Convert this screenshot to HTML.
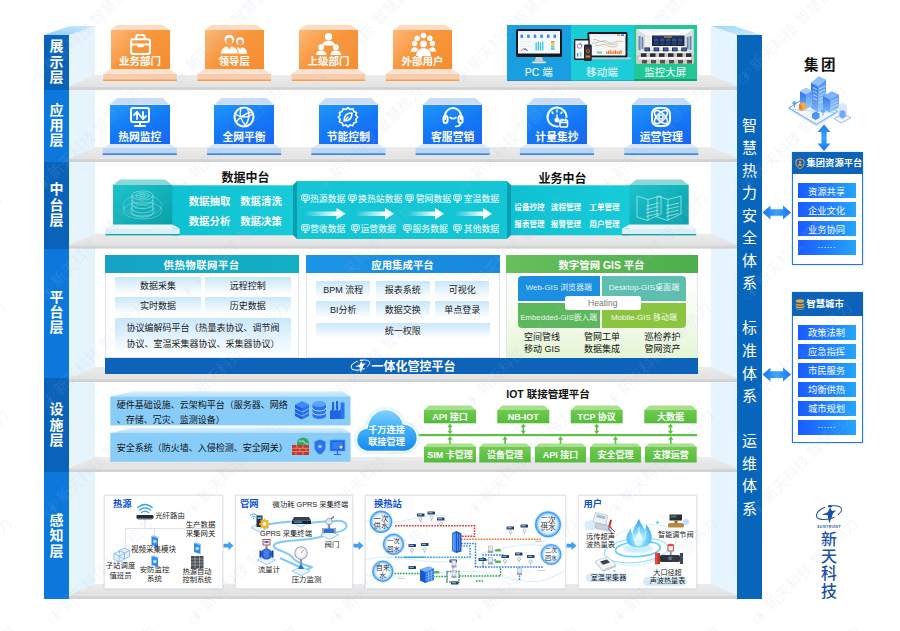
<!DOCTYPE html><html lang="zh-CN"><head><meta charset="utf-8"><title>智慧热力平台架构</title><style>
*{margin:0;padding:0;box-sizing:border-box}
html,body{width:900px;height:631px;overflow:hidden;background:#fff}
body{position:relative;font-family:"Liberation Sans","Noto Sans CJK SC",sans-serif;color:#222}
.a{position:absolute}
.c{position:absolute;display:flex;align-items:center;justify-content:center;text-align:center;white-space:nowrap}
svg{position:absolute;left:0;top:0;overflow:visible}
.lay{position:absolute;left:44px;width:25px;color:#fff;font-weight:700;font-size:14px;line-height:15.4px;display:flex;align-items:center;justify-content:center;text-align:center}
.lay span{display:block;width:14px;word-break:break-all}
.dk{background:#0b62b9}.lt{background:#0d78dc}
.rc{position:absolute;left:737px;top:35px;width:25px;height:563.8px;background:#0766bc;color:#fff;font-size:15px;line-height:22.55px;text-align:center}
.ob{color:#fff;font-weight:700;font-size:10px}
</style></head><body>
<svg width="900" height="631" viewBox="0 0 900 631"><defs><linearGradient id="gtopL" x1="0" y1="1" x2="1" y2="0"><stop offset="0" stop-color="#86ccf7"/><stop offset="1" stop-color="#d3edfd"/></linearGradient><linearGradient id="gtopR" x1="0" y1="0" x2="1" y2="1"><stop offset="0" stop-color="#9dd8fa"/><stop offset="1" stop-color="#cfeafc"/></linearGradient><linearGradient id="gshelf" x1="0" y1="0" x2="0" y2="1"><stop offset="0" stop-color="#ececec"/><stop offset="1" stop-color="#e2e2e2"/></linearGradient><linearGradient id="gedge" x1="0" y1="0" x2="0" y2="1"><stop offset="0" stop-color="#d9d9d9"/><stop offset="1" stop-color="#cfcfcf"/></linearGradient></defs><polygon points="69,35 95,26 95,584 69,598.8" fill="#e5f4fd"/><polygon points="711,26 737,35 737,598.8 711,584" fill="#e5f4fd"/><polygon points="44,35 69,35 95,26 70,26" fill="url(#gtopL)"/><polygon points="711,26 734,26 762,35 737,35" fill="url(#gtopR)"/><polygon points="95,75 711,75 737,86.5 69,86.5" fill="url(#gshelf)"/><rect x="69" y="86.5" width="668" height="3.4" fill="url(#gedge)"/><polygon points="95,147.1 711,147.1 737,158.6 69,158.6" fill="url(#gshelf)"/><rect x="69" y="158.6" width="668" height="3.4" fill="url(#gedge)"/><polygon points="95,233.7 711,233.7 737,245.2 69,245.2" fill="url(#gshelf)"/><rect x="69" y="245.2" width="668" height="3.4" fill="url(#gedge)"/><polygon points="95,367.1 711,367.1 737,378.6 69,378.6" fill="url(#gshelf)"/><rect x="69" y="378.6" width="668" height="3.4" fill="url(#gedge)"/><polygon points="95,457.1 711,457.1 737,468.6 69,468.6" fill="url(#gshelf)"/><rect x="69" y="468.6" width="668" height="3.4" fill="url(#gedge)"/><polygon points="95,584 711,584 737,595.5 69,595.5" fill="url(#gshelf)"/><rect x="69" y="595.5" width="668" height="3.4" fill="url(#gedge)"/></svg>
<div class="lay dk" style="top:35px;height:54.7px"><span style="position:relative;top:0px">展示层</span></div>
<div class="lay lt" style="top:89.7px;height:72.2px"><span style="position:relative;top:0px">应用层</span></div>
<div class="lay dk" style="top:161.9px;height:87.0px"><span style="position:relative;top:0px">中台层</span></div>
<div class="lay lt" style="top:248.9px;height:128.70000000000002px"><span style="position:relative;top:-0.5px">平台层</span></div>
<div class="lay dk" style="top:377.6px;height:94.29999999999995px"><span style="position:relative;top:0.5px">设施层</span></div>
<div class="lay lt" style="top:471.9px;height:126.89999999999998px"><span style="position:relative;top:0.5px">感知层</span></div>
<div class="rc"><div style="position:absolute;left:0;width:25px;top:79.5px">智<br>慧<br>热<br>力<br>安<br>全<br>体<br>系<br>　<br>标<br>准<br>体<br>系<br>　<br>运<br>维<br>体<br>系</div></div>
<svg width="900" height="631"><polygon points="117.5,24.7 162.5,24.7 169.5,30.2 110.5,30.2" fill="#fcdcc3"/><polygon points="110.5,69.0 169.5,69.0 176.8,73.8 103.2,73.8" fill="#fde1cf"/><rect x="103.2" y="73.8" width="73.6" height="5.7" fill="#f8ccb0"/><rect x="103.2" y="79.5" width="73.6" height="1.4000000000000004" fill="#f59b34"/></svg><div class="a" style="left:110.5px;top:30.2px;width:59px;height:39.3px;background:linear-gradient(135deg,#fdb877 0%,#f8963c 45%,#f68d30 100%)"></div><svg style="left:130.0px;top:34px" width="21" height="21" viewBox="2 2 20 20" fill="none" stroke="#fff" stroke-width="2" stroke-linecap="round" stroke-linejoin="round"><rect x="3" y="7" width="18" height="14" rx="2"/><path d="M8 7V5a2 2 0 0 1 2-2h4a2 2 0 0 1 2 2v2M3 12h18M10 12v1.5h4V12"/></svg><div class="c ob" style="left:105.5px;top:53.7px;width:69px;height:14px;font-size:10.5px">业务部门</div>
<svg width="900" height="631"><polygon points="211.7,24.7 256.7,24.7 263.7,30.2 204.7,30.2" fill="#fcdcc3"/><polygon points="204.7,69.0 263.7,69.0 271.0,73.8 197.39999999999998,73.8" fill="#fde1cf"/><rect x="197.39999999999998" y="73.8" width="73.6" height="5.7" fill="#f8ccb0"/><rect x="197.39999999999998" y="79.5" width="73.6" height="1.4000000000000004" fill="#f59b34"/></svg><div class="a" style="left:204.7px;top:30.2px;width:59px;height:39.3px;background:linear-gradient(135deg,#fdb877 0%,#f8963c 45%,#f68d30 100%)"></div><svg style="left:220.2px;top:33.5px" width="28" height="21" viewBox="0 1 30 22.5" fill="none" stroke="#fff" stroke-width="2" stroke-linecap="round" stroke-linejoin="round"><g stroke="none"><circle cx="21.500" cy="8.800" r="4.300" fill="#fff"/><ellipse cx="21.500" cy="10" rx="2.700" ry="3" fill="#f9a050"/><path d="M15 22.500c0-5 2-7.500 6.500-7.500s7.500 2.500 7.500 7.500z" fill="#fff"/><path d="M19.800 15l1.700 3 1.700-3z" fill="#f9a050"/><path d="M0.500 22.500c0-6 3-9 9.500-9s9.500 3 9.500 9z" fill="#fff" stroke="#f9a050" stroke-width="1.200"/><circle cx="10" cy="7" r="5.200" fill="#fff"/><ellipse cx="10" cy="8.500" rx="3.300" ry="3.700" fill="#f9a050"/><path d="M7.300 13.300l2.700 4.700 2.700-4.700z" fill="#f9a050"/></g></svg><div class="c ob" style="left:199.7px;top:53.7px;width:69px;height:14px;font-size:10.5px">领导层</div>
<svg width="900" height="631"><polygon points="305.9,24.7 350.9,24.7 357.9,30.2 298.9,30.2" fill="#fcdcc3"/><polygon points="298.9,69.0 357.9,69.0 365.2,73.8 291.59999999999997,73.8" fill="#fde1cf"/><rect x="291.59999999999997" y="73.8" width="73.6" height="5.7" fill="#f8ccb0"/><rect x="291.59999999999997" y="79.5" width="73.6" height="1.4000000000000004" fill="#f59b34"/></svg><div class="a" style="left:298.9px;top:30.2px;width:59px;height:39.3px;background:linear-gradient(135deg,#fdb877 0%,#f8963c 45%,#f68d30 100%)"></div><svg style="left:318.4px;top:34px" width="21" height="21" viewBox="2 2 20 20" fill="none" stroke="#fff" stroke-width="2" stroke-linecap="round" stroke-linejoin="round"><g fill="#fff" stroke="none"><circle cx="12" cy="4.500" r="3.500"/><path d="M6 13c0-3 2.500-4.500 6-4.500s6 1.500 6 4.500z"/><circle cx="5" cy="14.500" r="2.800"/><path d="M0 22c0-3 2-4.200 5-4.200s5 1.200 5 4.200z"/><circle cx="19" cy="14.500" r="2.800"/><path d="M14 22c0-3 2-4.200 5-4.200s5 1.200 5 4.200z"/></g></svg><div class="c ob" style="left:293.9px;top:53.7px;width:69px;height:14px;font-size:10.5px">上级部门</div>
<svg width="900" height="631"><polygon points="400.1,24.7 445.1,24.7 452.1,30.2 393.1,30.2" fill="#fcdcc3"/><polygon points="393.1,69.0 452.1,69.0 459.40000000000003,73.8 385.8,73.8" fill="#fde1cf"/><rect x="385.8" y="73.8" width="73.6" height="5.7" fill="#f8ccb0"/><rect x="385.8" y="79.5" width="73.6" height="1.4000000000000004" fill="#f59b34"/></svg><div class="a" style="left:393.1px;top:30.2px;width:59px;height:39.3px;background:linear-gradient(135deg,#fdb877 0%,#f8963c 45%,#f68d30 100%)"></div><svg style="left:412.6px;top:34px" width="21" height="21" viewBox="2 2 20 20" fill="none" stroke="#fff" stroke-width="2" stroke-linecap="round" stroke-linejoin="round"><g fill="#fff" stroke="none"><circle cx="12" cy="3.500" r="2.600"/><circle cx="6" cy="6" r="2.600"/><circle cx="18" cy="6" r="2.600"/><circle cx="3.500" cy="11" r="2.600"/><circle cx="20.500" cy="11" r="2.600"/><circle cx="12" cy="11.500" r="3.200"/><path d="M5 23c0-5 3-7.500 7-7.500s7 2.500 7 7.500z"/><path d="M0 19c0-3 1.500-4.500 3.500-4.500s3 1 3.500 2l-2 2.500z"/><path d="M24 19c0-3-1.500-4.500-3.500-4.500s-3 1-3.500 2l2 2.500z"/><path d="M2.500 10c1-2 2.500-2.500 3.500-2.500M21.500 10c-1-2-2.500-2.500-3.500-2.500" /></g></svg><div class="c ob" style="left:388.1px;top:53.7px;width:69px;height:14px;font-size:10.5px">外部用户</div>
<div class="a" style="left:507px;top:25px;width:63.5px;height:56px;background:#199fe0;border-bottom:1.5px solid #2a86d8"></div>
<div class="a" style="left:570.5px;top:25px;width:63px;height:56px;background:#1ccdd9;border-bottom:1.500px solid #17b4c4"></div>
<div class="a" style="left:633.5px;top:25px;width:63.5px;height:56px;background:#21c896;border-bottom:2px solid #10a27b"></div>
<div class="c" style="left:507px;top:64px;width:63.5px;height:14px;color:#fff;font-size:10.5px">PC 端</div>
<div class="c" style="left:570.5px;top:64px;width:63px;height:14px;color:#fff;font-size:10.5px">移动端</div>
<div class="c" style="left:633.5px;top:64px;width:63.5px;height:14px;color:#fff;font-size:10.5px">监控大屏</div>
<svg width="900" height="631"><polygon points="117.0,98.0 162.5,98.0 169.5,104.7 110.0,104.7" fill="#cbddf6"/><polygon points="110.0,143.8 169.5,143.8 176.8,148.0 102.7,148.0" fill="#dae7f8"/><rect x="102.7" y="148.0" width="74.1" height="5.3" fill="#bbd5f3"/><rect x="102.7" y="153.3" width="74.1" height="1.6999999999999993" fill="#3587e3"/></svg><div class="a" style="left:110.0px;top:104.7px;width:59.5px;height:39.6px;background:linear-gradient(160deg,#1e97fb 0%,#1479f5 50%,#1766f2 100%)"></div><svg style="left:129.8px;top:107px" width="20" height="20" viewBox="2 2 20 20" fill="none" stroke="#fff" stroke-width="2" stroke-linecap="round" stroke-linejoin="round"><rect x="3" y="3" width="18" height="14" rx="2"/><path d="M12 17v4M7 21h10M6 10l3-3 0 0v7M9 7l6 7V7m0 7l3-3" stroke-width="1.800"/></svg><div class="c ob" style="left:105.0px;top:128.5px;width:69.5px;height:14px;font-size:10.8px">热网监控</div>
<svg width="900" height="631"><polygon points="221.3,98.0 266.8,98.0 273.8,104.7 214.3,104.7" fill="#cbddf6"/><polygon points="214.3,143.8 273.8,143.8 281.1,148.0 207.0,148.0" fill="#dae7f8"/><rect x="207.0" y="148.0" width="74.1" height="5.3" fill="#bbd5f3"/><rect x="207.0" y="153.3" width="74.1" height="1.6999999999999993" fill="#3587e3"/></svg><div class="a" style="left:214.3px;top:104.7px;width:59.5px;height:39.6px;background:linear-gradient(160deg,#1e97fb 0%,#1479f5 50%,#1766f2 100%)"></div><svg style="left:234.10000000000002px;top:107px" width="20" height="20" viewBox="2 2 20 20" fill="none" stroke="#fff" stroke-width="2" stroke-linecap="round" stroke-linejoin="round"><circle cx="12" cy="12" r="9.500"/><path d="M3 9c6 4 12 4 18 0M4 17c5-6 11-9 16-10M9 3c-2 6 0 13 5 18M15 3c3 5 3 11-2 18" stroke-width="1.400"/></svg><div class="c ob" style="left:209.3px;top:128.5px;width:69.5px;height:14px;font-size:10.8px">全网平衡</div>
<svg width="900" height="631"><polygon points="325.6,98.0 371.1,98.0 378.1,104.7 318.6,104.7" fill="#cbddf6"/><polygon points="318.6,143.8 378.1,143.8 385.40000000000003,148.0 311.3,148.0" fill="#dae7f8"/><rect x="311.3" y="148.0" width="74.1" height="5.3" fill="#bbd5f3"/><rect x="311.3" y="153.3" width="74.1" height="1.6999999999999993" fill="#3587e3"/></svg><div class="a" style="left:318.6px;top:104.7px;width:59.5px;height:39.6px;background:linear-gradient(160deg,#1e97fb 0%,#1479f5 50%,#1766f2 100%)"></div><svg style="left:338.40000000000003px;top:107px" width="20" height="20" viewBox="2 2 20 20" fill="none" stroke="#fff" stroke-width="2" stroke-linecap="round" stroke-linejoin="round"><path d="M12 2.500l2 2 2.800-.8 1 2.700 2.800 1-.8 2.800 2 2-2 2 .8 2.800-2.800 1-1 2.700-2.800-.8-2 2-2-2-2.800.8-1-2.700-2.800-1 .8-2.800-2-2 2-2-.8-2.800 2.800-1 1-2.700 2.800.8z" stroke-width="1.600"/><path d="M8 16c0-5 3-8 8-8 0 5-3 8-8 8zm0 0l4-4" stroke-width="1.500"/></svg><div class="c ob" style="left:313.6px;top:128.5px;width:69.5px;height:14px;font-size:10.8px">节能控制</div>
<svg width="900" height="631"><polygon points="429.9,98.0 475.4,98.0 482.4,104.7 422.9,104.7" fill="#cbddf6"/><polygon points="422.9,143.8 482.4,143.8 489.7,148.0 415.59999999999997,148.0" fill="#dae7f8"/><rect x="415.59999999999997" y="148.0" width="74.1" height="5.3" fill="#bbd5f3"/><rect x="415.59999999999997" y="153.3" width="74.1" height="1.6999999999999993" fill="#3587e3"/></svg><div class="a" style="left:422.9px;top:104.7px;width:59.5px;height:39.6px;background:linear-gradient(160deg,#1e97fb 0%,#1479f5 50%,#1766f2 100%)"></div><svg style="left:442.7px;top:107px" width="20" height="20" viewBox="2 2 20 20" fill="none" stroke="#fff" stroke-width="2" stroke-linecap="round" stroke-linejoin="round"><path d="M4 14v-3a8 8 0 0 1 16 0v3" /><rect x="2.500" y="11" width="4" height="7" rx="2"/><rect x="17.500" y="11" width="4" height="7" rx="2"/><path d="M19.500 18c0 2.500-2 3.500-5 3.500M9 12.500c2 1.500 4 1.500 6 0" stroke-width="1.600"/></svg><div class="c ob" style="left:417.9px;top:128.5px;width:69.5px;height:14px;font-size:10.8px">客服营销</div>
<svg width="900" height="631"><polygon points="534.2,98.0 579.7,98.0 586.7,104.7 527.2,104.7" fill="#cbddf6"/><polygon points="527.2,143.8 586.7,143.8 594.0,148.0 519.9000000000001,148.0" fill="#dae7f8"/><rect x="519.9000000000001" y="148.0" width="74.1" height="5.3" fill="#bbd5f3"/><rect x="519.9000000000001" y="153.3" width="74.1" height="1.6999999999999993" fill="#3587e3"/></svg><div class="a" style="left:527.2px;top:104.7px;width:59.5px;height:39.6px;background:linear-gradient(160deg,#1e97fb 0%,#1479f5 50%,#1766f2 100%)"></div><svg style="left:547.0px;top:107px" width="20" height="20" viewBox="2 2 20 20" fill="none" stroke="#fff" stroke-width="2" stroke-linecap="round" stroke-linejoin="round"><path d="M13 21.500a9.500 9.500 0 1 1 8.500-9.500" /><path d="M12 5v2M7 7l1 1.500M17 7l-1 1.500M12 10v4" stroke-width="1.500"/><circle cx="12" cy="15" r="1.500" fill="#fff"/><rect x="15" y="15" width="7.500" height="7" rx="1" stroke-width="1.500"/><path d="M15 17.500h7.500M17 14v2M20.500 14v2" stroke-width="1.300"/></svg><div class="c ob" style="left:522.2px;top:128.5px;width:69.5px;height:14px;font-size:10.8px">计量集抄</div>
<svg width="900" height="631"><polygon points="638.5,98.0 684.0,98.0 691.0,104.7 631.5,104.7" fill="#cbddf6"/><polygon points="631.5,143.8 691.0,143.8 698.3,148.0 624.2,148.0" fill="#dae7f8"/><rect x="624.2" y="148.0" width="74.1" height="5.3" fill="#bbd5f3"/><rect x="624.2" y="153.3" width="74.1" height="1.6999999999999993" fill="#3587e3"/></svg><div class="a" style="left:631.5px;top:104.7px;width:59.5px;height:39.6px;background:linear-gradient(160deg,#1e97fb 0%,#1479f5 50%,#1766f2 100%)"></div><svg style="left:651.3px;top:107px" width="20" height="20" viewBox="2 2 20 20" fill="none" stroke="#fff" stroke-width="2" stroke-linecap="round" stroke-linejoin="round"><rect x="3" y="3" width="18" height="18" rx="6"/><ellipse cx="12" cy="12" rx="8.500" ry="3.800" transform="rotate(45 12 12)" stroke-width="1.600"/><ellipse cx="12" cy="12" rx="8.500" ry="3.800" transform="rotate(-45 12 12)" stroke-width="1.600"/><circle cx="12" cy="12" r="2" stroke-width="1.600"/></svg><div class="c ob" style="left:626.5px;top:128.5px;width:69.5px;height:14px;font-size:10.8px">运营管理</div>
<svg width="900" height="631"><defs><linearGradient id="tealbox" x1="0" y1="0" x2="1" y2="1"><stop offset="0" stop-color="#1cc3cc"/><stop offset="1" stop-color="#0a9fa8"/></linearGradient><linearGradient id="tealband" x1="0" y1="0" x2="1" y2="0"><stop offset="0" stop-color="#0fc0d1"/><stop offset="1" stop-color="#17cbd9"/></linearGradient><linearGradient id="arr" x1="0" y1="0" x2="1" y2="0"><stop offset="0" stop-color="#fff" stop-opacity="0"/><stop offset="0.75" stop-color="#fff" stop-opacity="0.95"/><stop offset="1" stop-color="#fff"/></linearGradient></defs><rect x="172" y="185.300" width="122" height="50" fill="url(#tealband)"/><rect x="510" y="185.300" width="120" height="50" fill="url(#tealband)"/><polygon points="293,185 297,181 297,239 293,235" fill="#0a9fb0"/><polygon points="511,185 507,181 507,239 511,235" fill="#0a9fb0"/><rect x="297" y="181" width="210" height="58" fill="#14c6d5"/><polygon points="120,179.5 165.2,179.5 172.2,185 113,185" fill="#8fd6d6"/><rect x="113" y="185" width="59.2" height="40" fill="url(#tealbox)"/><polygon points="113,224.500 172.2,224.500 179.7,228.500 105.5,228.500" fill="#eaf6fa"/><rect x="105.5" y="228.500" width="74.2" height="5.500" fill="#d9eef5"/><rect x="105.5" y="234" width="74.2" height="1.400" fill="#12a8a8"/><polygon points="636.5,179.5 681.7,179.5 688.7,185 629.5,185" fill="#8fd6d6"/><rect x="629.5" y="185" width="59.2" height="40" fill="url(#tealbox)"/><polygon points="629.5,224.500 688.7,224.500 696.2,228.500 622.0,228.500" fill="#eaf6fa"/><rect x="622.0" y="228.500" width="74.2" height="5.500" fill="#d9eef5"/><rect x="622.0" y="234" width="74.2" height="1.400" fill="#12a8a8"/><g fill="none" stroke="#c8f6f5" stroke-width="0.550" opacity="0.85"><ellipse cx="142.500" cy="205.500" rx="19.500" ry="10.500" opacity="0.550"/><ellipse cx="142.500" cy="210.500" rx="19.500" ry="8.500" opacity="0.700"/><ellipse cx="142.500" cy="210.500" rx="13" ry="5.500" opacity="0.500"/><ellipse cx="142.500" cy="195.500" rx="10.500" ry="4.500"/><ellipse cx="142.500" cy="195.500" rx="6.500" ry="2.800"/><ellipse cx="142.500" cy="195.500" rx="3" ry="1.300"/><path d="M132 199.8a10.500 4.500 0 0 0 21 0"/><path d="M132 204.1a10.500 4.500 0 0 0 21 0"/><path d="M132 208.4a10.500 4.500 0 0 0 21 0"/><path d="M132 212.7a10.500 4.500 0 0 0 21 0"/><path d="M132 195.500v17.200M153 195.500v17.200"/></g><g fill="none" stroke="#c9f5f3" stroke-width="0.700" opacity="0.9"><path d="M637 196l11 3.500v21l-11-3.500z"/><path d="M648 199.500l13-3.500v18l-13 6"/><path d="M646 206.0l13-3"/><path d="M646 209.5l13-3"/><path d="M646 213.0l13-3"/><path d="M646 216.5l13-3"/><path d="M657 196l11 3.500v21l-11-3.500z"/><path d="M668 199.500l13-3.500v18l-13 6"/><path d="M666 206.0l13-3"/><path d="M666 209.5l13-3"/><path d="M666 213.0l13-3"/><path d="M666 216.5l13-3"/></g><polygon points="305,211.500 336.5,211.500 336.5,208 345.5,213.800 336.5,219.500 336.5,216 305,216" fill="url(#arr)"/><polygon points="355,211.500 385,211.500 385,208 394,213.800 385,219.500 385,216 355,216" fill="url(#arr)"/><polygon points="407.5,211.500 435,211.500 435,208 444,213.800 435,219.500 435,216 407.5,216" fill="url(#arr)"/><polygon points="455,211.500 483,211.500 483,208 492,213.800 483,219.500 483,216 455,216" fill="url(#arr)"/></svg>
<div class="c" style="left:195.500px;top:167px;width:100px;height:18px;font-size:12px;font-weight:700;color:#111">数据中台</div>
<div class="c" style="left:512.500px;top:168.500px;width:100px;height:18px;font-size:12px;font-weight:700;color:#111">业务中台</div>
<div class="c" style="left:188.5px;top:192.5px;width:42px;height:16px;font-size:10.400px;font-weight:700;color:#fff">数据抽取</div>
<div class="c" style="left:240px;top:192.5px;width:42px;height:16px;font-size:10.400px;font-weight:700;color:#fff">数据清洗</div>
<div class="c" style="left:188.5px;top:212.5px;width:42px;height:16px;font-size:10.400px;font-weight:700;color:#fff">数据分析</div>
<div class="c" style="left:240px;top:212.5px;width:42px;height:16px;font-size:10.400px;font-weight:700;color:#fff">数据决策</div>
<div class="c" style="left:514.5px;top:199px;width:30px;height:14px;font-size:7.600px;font-weight:700;color:#fff">设备抄控</div>
<div class="c" style="left:551px;top:199px;width:30px;height:14px;font-size:7.600px;font-weight:700;color:#fff">流程管理</div>
<div class="c" style="left:589.5px;top:199px;width:30px;height:14px;font-size:7.600px;font-weight:700;color:#fff">工单管理</div>
<div class="c" style="left:514.5px;top:216px;width:30px;height:14px;font-size:7.600px;font-weight:700;color:#fff">报表管理</div>
<div class="c" style="left:551px;top:216px;width:30px;height:14px;font-size:7.600px;font-weight:700;color:#fff">报警管理</div>
<div class="c" style="left:589.5px;top:216px;width:30px;height:14px;font-size:7.600px;font-weight:700;color:#fff">用户管理</div>
<svg style="left:300.5px;top:194.2px" width="9" height="9" viewBox="0 0 12 12" fill="none" stroke="#fff" stroke-width="1.200"><rect x="1" y="1" width="10" height="7.500" rx="1.500"/><rect x="3.500" y="3" width="5" height="3.500"/><path d="M4 11h4M6 8.500v2.500"/></svg>
<div class="c" style="left:310px;top:191.7px;width:35.5px;height:14px;font-size:8.900px;color:#fff">热源数据</div>
<svg style="left:348px;top:194.2px" width="9" height="9" viewBox="0 0 12 12" fill="none" stroke="#fff" stroke-width="1.200"><rect x="1" y="1" width="10" height="7.500" rx="1.500"/><rect x="3.500" y="3" width="5" height="3.500"/><path d="M4 11h4M6 8.500v2.500"/></svg>
<div class="c" style="left:358px;top:191.7px;width:44.5px;height:14px;font-size:8.900px;color:#fff">换热站数据</div>
<svg style="left:405px;top:194.2px" width="9" height="9" viewBox="0 0 12 12" fill="none" stroke="#fff" stroke-width="1.200"><rect x="1" y="1" width="10" height="7.500" rx="1.500"/><rect x="3.500" y="3" width="5" height="3.500"/><path d="M4 11h4M6 8.500v2.500"/></svg>
<div class="c" style="left:416px;top:191.7px;width:35px;height:14px;font-size:8.900px;color:#fff">管网数据</div>
<svg style="left:453px;top:194.2px" width="9" height="9" viewBox="0 0 12 12" fill="none" stroke="#fff" stroke-width="1.200"><rect x="1" y="1" width="10" height="7.500" rx="1.500"/><rect x="3.500" y="3" width="5" height="3.500"/><path d="M4 11h4M6 8.500v2.500"/></svg>
<div class="c" style="left:464px;top:191.7px;width:35px;height:14px;font-size:8.900px;color:#fff">室温数据</div>
<svg style="left:300.5px;top:223.5px" width="9" height="9" viewBox="0 0 12 12" fill="none" stroke="#fff" stroke-width="1.200"><rect x="1" y="1" width="10" height="7.500" rx="1.500"/><rect x="3.500" y="3" width="5" height="3.500"/><path d="M4 11h4M6 8.500v2.500"/></svg>
<div class="c" style="left:310px;top:221px;width:35.5px;height:14px;font-size:8.900px;color:#fff">营收数据</div>
<svg style="left:351px;top:223.5px" width="9" height="9" viewBox="0 0 12 12" fill="none" stroke="#fff" stroke-width="1.200"><rect x="1" y="1" width="10" height="7.500" rx="1.500"/><rect x="3.500" y="3" width="5" height="3.500"/><path d="M4 11h4M6 8.500v2.500"/></svg>
<div class="c" style="left:360.5px;top:221px;width:35.5px;height:14px;font-size:8.900px;color:#fff">运营数据</div>
<svg style="left:402.5px;top:223.5px" width="9" height="9" viewBox="0 0 12 12" fill="none" stroke="#fff" stroke-width="1.200"><rect x="1" y="1" width="10" height="7.500" rx="1.500"/><rect x="3.500" y="3" width="5" height="3.500"/><path d="M4 11h4M6 8.500v2.500"/></svg>
<div class="c" style="left:412.5px;top:221px;width:35.5px;height:14px;font-size:8.900px;color:#fff">服务数据</div>
<svg style="left:453px;top:223.5px" width="9" height="9" viewBox="0 0 12 12" fill="none" stroke="#fff" stroke-width="1.200"><rect x="1" y="1" width="10" height="7.500" rx="1.500"/><rect x="3.500" y="3" width="5" height="3.500"/><path d="M4 11h4M6 8.500v2.500"/></svg>
<div class="c" style="left:464px;top:221px;width:35px;height:14px;font-size:8.900px;color:#fff">其他数据</div>
<div class="a" style="left:104.5px;top:255px;width:194.3px;height:103px;background:#fff;border:1px solid #dfe6ee"></div><div class="c" style="left:104.5px;top:255px;width:194.3px;height:18px;background:linear-gradient(90deg,#16a3c6,#11b0c4);color:#fff;font-weight:700;font-size:10.400px;letter-spacing:0.5px">供热物联网平台</div>
<div class="a" style="left:305.5px;top:255px;width:194px;height:103px;background:#fff;border:1px solid #dfe6ee"></div><div class="c" style="left:305.5px;top:255px;width:194px;height:18px;background:linear-gradient(90deg,#1d95e6,#1888dd);color:#fff;font-weight:700;font-size:10.400px;letter-spacing:0px">应用集成平台</div>
<div class="a" style="left:505.5px;top:255px;width:192px;height:103px;background:#fff;border:1px solid #dfe6ee"></div><div class="c" style="left:505.5px;top:255px;width:192px;height:18px;background:linear-gradient(90deg,#68bf5c,#4cae4c);color:#fff;font-weight:700;font-size:10.400px;letter-spacing:0px">数字管网 GIS 平台</div>
<div class="a" style="left:506.500px;top:273px;width:190px;height:84.500px;background:linear-gradient(180deg,#ffffff 0%,#f4fbed 55%,#e4f5d4 100%)"></div>
<div class="c" style="left:115px;top:277px;width:86px;height:16.8px;background:linear-gradient(180deg,#c9e8fb 0%,#e6f4fd 55%,#ffffff 100%);font-size:9.0px;color:#1a1a1a">数据采集</div>
<div class="c" style="left:204.5px;top:277px;width:86.5px;height:16.8px;background:linear-gradient(180deg,#c9e8fb 0%,#e6f4fd 55%,#ffffff 100%);font-size:9.0px;color:#1a1a1a">远程控制</div>
<div class="c" style="left:115px;top:297px;width:86px;height:16.8px;background:linear-gradient(180deg,#c9e8fb 0%,#e6f4fd 55%,#ffffff 100%);font-size:9.0px;color:#1a1a1a">实时数据</div>
<div class="c" style="left:204.5px;top:297px;width:86.5px;height:16.8px;background:linear-gradient(180deg,#c9e8fb 0%,#e6f4fd 55%,#ffffff 100%);font-size:9.0px;color:#1a1a1a">历史数据</div>
<div class="a" style="left:115px;top:317.500px;width:176px;height:38px;background:linear-gradient(180deg,#c9e8fb 0%,#e6f4fd 55%,#ffffff 100%)"></div>
<div class="a" style="left:126.500px;top:321px;width:160px;font-size:9.000px;line-height:15.800px;color:#1a1a1a;white-space:nowrap">协议编解码平台（热量表协议、调节阀<br>协议、室温采集器协议、采集器协议）</div>
<div class="c" style="left:316.0px;top:281px;width:54.3px;height:16.5px;background:linear-gradient(180deg,#c9e8fb 0%,#e6f4fd 55%,#ffffff 100%);font-size:9.0px;color:#1a1a1a">BPM 流程</div>
<div class="c" style="left:375.6px;top:281px;width:54.3px;height:16.5px;background:linear-gradient(180deg,#c9e8fb 0%,#e6f4fd 55%,#ffffff 100%);font-size:9.0px;color:#1a1a1a">报表系统</div>
<div class="c" style="left:435.2px;top:281px;width:54.3px;height:16.5px;background:linear-gradient(180deg,#c9e8fb 0%,#e6f4fd 55%,#ffffff 100%);font-size:9.0px;color:#1a1a1a">可视化</div>
<div class="c" style="left:316.0px;top:301px;width:54.3px;height:16.5px;background:linear-gradient(180deg,#c9e8fb 0%,#e6f4fd 55%,#ffffff 100%);font-size:9.0px;color:#1a1a1a">BI分析</div>
<div class="c" style="left:375.6px;top:301px;width:54.3px;height:16.5px;background:linear-gradient(180deg,#c9e8fb 0%,#e6f4fd 55%,#ffffff 100%);font-size:9.0px;color:#1a1a1a">数据交换</div>
<div class="c" style="left:435.2px;top:301px;width:54.3px;height:16.5px;background:linear-gradient(180deg,#c9e8fb 0%,#e6f4fd 55%,#ffffff 100%);font-size:9.0px;color:#1a1a1a">单点登录</div>
<div class="c" style="left:316px;top:322.5px;width:173.5px;height:15.5px;background:linear-gradient(180deg,#c9e8fb 0%,#e6f4fd 55%,#ffffff 100%);font-size:9.0px;color:#1a1a1a">统一权限</div>
<div class="c" style="left:517.5px;top:275.5px;width:82.5px;height:25.8px;background:#1b8fe2;border-radius:4px 0 0 0;color:rgba(255,255,255,0.92);font-size:7.9px"><span style="position:relative;top:-1.5px">Web-GIS 浏览器端</span></div>
<div class="c" style="left:602px;top:275.5px;width:84px;height:25.8px;background:#5cbfb0;border-radius:0 4px 0 0;color:rgba(255,255,255,0.92);font-size:8.1px"><span style="position:relative;top:-1.5px">Desktop-GIS桌面端</span></div>
<div class="c" style="left:517.5px;top:303px;width:82.5px;height:24.5px;background:#5cb85c;border-radius:0 0 0 4px;color:rgba(255,255,255,0.92);font-size:7.75px"><span style="position:relative;top:1.5px">Embedded-GIS嵌入端</span></div>
<div class="c" style="left:602px;top:303px;width:84px;height:24.5px;background:#8bc53f;border-radius:0 0 4px 0;color:rgba(255,255,255,0.92);font-size:8.0px"><span style="position:relative;top:1.5px">Mobile-GIS 移动端</span></div>
<div class="c" style="left:564.500px;top:296px;width:76.500px;height:13.500px;background:#fff;border-radius:2.500px;color:#777;font-size:8.500px">Heating</div>
<div class="a" style="left:524px;top:330.500px;width:40px;font-size:9.000px;line-height:12.600px;color:#111;white-space:nowrap">空间管线<br>移动 GIS</div>
<div class="a" style="left:584px;top:330.500px;width:40px;font-size:9.000px;line-height:12.600px;color:#111;white-space:nowrap">管网工单<br>数据集成</div>
<div class="a" style="left:644.5px;top:330.500px;width:40px;font-size:9.000px;line-height:12.600px;color:#111;white-space:nowrap">巡检养护<br>管网资产</div>
<div class="a" style="left:104.500px;top:357.500px;width:593px;height:16.300px;background:#0d62b9"></div>
<div class="c" style="left:371px;top:357.500px;width:85px;height:16.300px;color:#fff;font-weight:700;font-size:12px">一体化管控平台</div>
<svg width="900" height="631"><g transform="translate(360.500 365.700) scale(0.74) translate(-829 -513.500)"><g fill="none" stroke="#fff" stroke-width="1.300" stroke-linecap="round" transform="rotate(-17 829 512.500)"><path d="M826.500 506.300c-6 .6-10.500 3.200-10.500 6.200 0 3.400 5.800 6.200 13 6.200 1.200 0 2.400-.1 3.500-.2"/><path d="M833.500 506.900c4.800 1 8.500 3.100 8.500 5.600 0 1.900-1.800 3.600-4.800 4.700" stroke-width="1"/></g><ellipse cx="830" cy="506.300" rx="2.200" ry="1.200" fill="#fff"/><path d="M830 507.500L832 511L836.200 510.200L833 513.500L829.300 523.400L827.600 515L821.500 514.800L827.800 512.200Z" fill="#fff"/></g></svg>
<svg width="900" height="631"><defs><linearGradient id="cloud" x1="0" y1="0" x2="0" y2="1"><stop offset="0" stop-color="#86d3ff"/><stop offset="0.45" stop-color="#3fb0fa"/><stop offset="1" stop-color="#1589ee"/></linearGradient><linearGradient id="gbox" x1="0" y1="0" x2="0" y2="1"><stop offset="0" stop-color="#6fcb4e"/><stop offset="1" stop-color="#55bb3c"/></linearGradient><linearGradient id="lbtop" x1="0" y1="0" x2="0" y2="1"><stop offset="0" stop-color="#d9effd"/><stop offset="1" stop-color="#b3dffb"/></linearGradient><filter id="glow" x="-20%" y="-20%" width="140%" height="140%"><feGaussianBlur stdDeviation="1.200"/></filter></defs><polygon points="134,391.2 342,391.2 350.500,396.4 110.300,396.4" fill="url(#lbtop)"/><rect x="110.300" y="396.4" width="240.200" height="29.0" fill="#88cdf9"/><polygon points="134,427.8 342,427.8 350.500,433 110.300,433" fill="url(#lbtop)"/><rect x="110.300" y="433" width="240.200" height="28.80000000000001" fill="#88cdf9"/><rect x="415" y="434" width="282" height="2.200" fill="#5cc044"/><polygon points="429,405.500 471,405.500 476,410 424,410" fill="#a9df8e"/><rect x="424" y="410" width="52" height="13.300" fill="url(#gbox)"/><path d="M450.0 425V433" stroke="#5cc044" stroke-width="1.600"/><path d="M447.4 427.300L450.0 423.600L452.6 427.300ZM447.4 430.800L450.0 434.300L452.6 430.800Z" fill="#5cc044"/><polygon points="502.3,405.500 544.3,405.500 549.3,410 497.3,410" fill="#a9df8e"/><rect x="497.3" y="410" width="52" height="13.300" fill="url(#gbox)"/><path d="M523.3 425V433" stroke="#5cc044" stroke-width="1.600"/><path d="M520.6999999999999 427.300L523.3 423.600L525.9 427.300ZM520.6999999999999 430.800L523.3 434.300L525.9 430.800Z" fill="#5cc044"/><polygon points="575.7,405.500 617.7,405.500 622.7,410 570.7,410" fill="#a9df8e"/><rect x="570.7" y="410" width="52" height="13.300" fill="url(#gbox)"/><path d="M596.7 425V433" stroke="#5cc044" stroke-width="1.600"/><path d="M594.1 427.300L596.7 423.600L599.3000000000001 427.300ZM594.1 430.800L596.7 434.300L599.3000000000001 430.800Z" fill="#5cc044"/><polygon points="649.3,405.500 691.6999999999999,405.500 696.6999999999999,410 644.3,410" fill="#a9df8e"/><rect x="644.3" y="410" width="52.4" height="13.300" fill="url(#gbox)"/><path d="M670.5 425V433" stroke="#5cc044" stroke-width="1.600"/><path d="M667.9 427.300L670.5 423.600L673.1 427.300ZM667.9 430.800L670.5 434.300L673.1 430.800Z" fill="#5cc044"/><polygon points="428,443.500 472,443.500 476,447 424,447" fill="#a9df8e"/><rect x="424" y="447" width="52" height="15.500" fill="url(#gbox)"/><path d="M450.0 437V444" stroke="#5cc044" stroke-width="1.600"/><path d="M447.4 439.800L450.0 436.200L452.6 439.800Z" fill="#5cc044"/><polygon points="483.3,443.500 526.7,443.500 530.7,447 479.3,447" fill="#a9df8e"/><rect x="479.3" y="447" width="51.4" height="15.500" fill="url(#gbox)"/><path d="M505.0 437V444" stroke="#5cc044" stroke-width="1.600"/><path d="M502.4 439.800L505.0 436.200L507.6 439.800Z" fill="#5cc044"/><polygon points="539,443.500 582,443.500 586,447 535,447" fill="#a9df8e"/><rect x="535" y="447" width="51" height="15.500" fill="url(#gbox)"/><path d="M560.5 437V444" stroke="#5cc044" stroke-width="1.600"/><path d="M557.9 439.800L560.5 436.200L563.1 439.800Z" fill="#5cc044"/><polygon points="594,443.500 637,443.500 641,447 590,447" fill="#a9df8e"/><rect x="590" y="447" width="51" height="15.500" fill="url(#gbox)"/><path d="M615.5 437V444" stroke="#5cc044" stroke-width="1.600"/><path d="M612.9 439.800L615.5 436.200L618.1 439.800Z" fill="#5cc044"/><polygon points="649,443.500 692.7,443.500 696.7,447 645,447" fill="#a9df8e"/><rect x="645" y="447" width="51.7" height="15.500" fill="url(#gbox)"/><path d="M670.85 437V444" stroke="#5cc044" stroke-width="1.600"/><path d="M668.25 439.800L670.85 436.200L673.45 439.800Z" fill="#5cc044"/><g transform="translate(0 431) scale(1 1.080) translate(0 -430.500)"><path d="M370 449.500c-8 0-13.500-4.500-13.500-11 0-6 4.500-10.500 10.500-10.800 1.500-10 9-17 18.500-17 8.500 0 15.200 5.200 17.800 13 8 .5 14 6 14 13.200 0 7.400-6 12.600-14.500 12.600z" fill="#fff" stroke="#d3eafc" stroke-width="3.500" filter="url(#glow)"/><path d="M370 449.500c-8 0-13.500-4.500-13.500-11 0-6 4.500-10.500 10.500-10.800 1.500-10 9-17 18.500-17 8.500 0 15.200 5.200 17.800 13 8 .5 14 6 14 13.200 0 7.400-6 12.600-14.500 12.600z" fill="url(#cloud)" stroke="#fff" stroke-width="1.400"/></g></svg>
<div class="a" style="left:116.700px;top:397.900px;font-size:9px;line-height:15.200px;color:#111;white-space:nowrap">硬件基础设施、云架构平台（服务器、网络<br>、存储、冗灾、监测设备）</div>
<div class="a" style="left:116.700px;top:440.900px;font-size:9px;line-height:15.200px;color:#111;white-space:nowrap">安全系统（防火墙、入侵检测、安全网关）</div>
<div class="c" style="left:356px;top:422px;width:61px;height:13px;color:#fff;font-weight:700;font-size:9.200px">千万连接</div>
<div class="c" style="left:356px;top:434.500px;width:61px;height:13px;color:#fff;font-weight:700;font-size:9.200px">联接管理</div>
<div class="c" style="left:488px;top:385.500px;width:120px;height:15px;color:#111;font-weight:700;font-size:10.500px">IOT 联接管理平台</div>
<div class="c" style="left:424px;top:410px;width:52px;height:13.300px;color:#fff;font-weight:700;font-size:9px">API 接口</div>
<div class="c" style="left:497.3px;top:410px;width:52px;height:13.300px;color:#fff;font-weight:700;font-size:9px">NB-IOT</div>
<div class="c" style="left:570.7px;top:410px;width:52px;height:13.300px;color:#fff;font-weight:700;font-size:9px">TCP 协议</div>
<div class="c" style="left:644.3px;top:410px;width:52.4px;height:13.300px;color:#fff;font-weight:700;font-size:9px">大数据</div>
<div class="c" style="left:424px;top:447px;width:52px;height:15.500px;color:#fff;font-weight:700;font-size:9px">SIM 卡管理</div>
<div class="c" style="left:479.3px;top:447px;width:51.4px;height:15.500px;color:#fff;font-weight:700;font-size:9px">设备管理</div>
<div class="c" style="left:535px;top:447px;width:51px;height:15.500px;color:#fff;font-weight:700;font-size:9px">API 接口</div>
<div class="c" style="left:590px;top:447px;width:51px;height:15.500px;color:#fff;font-weight:700;font-size:9px">安全管理</div>
<div class="c" style="left:645px;top:447px;width:51.7px;height:15.500px;color:#fff;font-weight:700;font-size:9px">支撑运营</div>
<svg width="900" height="631"><g><polygon points="302,401 309,404.500 302,408 295,404.500" fill="#3b8af5"/><polygon points="295,404.500 302,408 302,419.500 295,416" fill="#1c5fe0"/><polygon points="309,404.500 302,408 302,419.500 309,416" fill="#2a74ee"/><path d="M295 408.500l7 3.500 7-3.500M295 412.500l7 3.500 7-3.500" stroke="#9cc8ff" stroke-width="0.800" fill="none"/></g><g><rect x="312.500" y="404" width="13.500" height="12" fill="#2a74ee"/><ellipse cx="319.250" cy="416" rx="6.750" ry="3" fill="#2a74ee"/><ellipse cx="319.250" cy="404" rx="6.750" ry="3" fill="#5aa2fa"/><path d="M312.500 408c0 4 13.500 4 13.500 0M312.500 412c0 4 13.500 4 13.500 0" stroke="#bcdcff" stroke-width="1" fill="none"/></g><g fill="#1f63e4"><path d="M330 419v-8l4-2.500v2.500l4-2.500v2.500l4-2.500V419z"/><rect x="332" y="402" width="2.200" height="8"/><rect x="336" y="401" width="2.200" height="8"/><rect x="340.500" y="402.500" width="4" height="16.500" fill="#2a74ee"/></g><g><circle cx="303" cy="443.500" r="6" fill="#3aa655"/><path d="M299 441c2 1 4-1 5 1s3 1 4 3" stroke="#7fd0f5" stroke-width="1.500" fill="none"/><rect x="292" y="445" width="17" height="10" fill="#c0392b"/><path d="M292 448.300h17M292 451.600h17M297 445v3.300M303 445v3.300M300 448.300v3.300M306 448.300v3.300M296 451.600v3.400M303 451.600v3.400" stroke="#f3b0a6" stroke-width="0.600"/></g><path d="M320 439.500l5.500 2v5.500c0 3.500-2.500 6-5.500 7.500-3-1.500-5.500-4-5.500-7.500v-5.500z" fill="#2a74ee"/><circle cx="320" cy="446.500" r="1.800" fill="#9cc8ff"/><g><rect x="330" y="440" width="15" height="11" fill="#1f63e4" stroke="#5aa2fa" stroke-width="0.800"/><rect x="332" y="442" width="11" height="7" fill="#2f80f5"/><path d="M337.500 451v3M334 454.500h7" stroke="#1f63e4" stroke-width="1.200"/><circle cx="341" cy="447" r="1.500" fill="#ffd54a"/></g></svg>
<div class="a" style="left:103.8px;top:495px;width:118.8px;height:94px;background:#fff;border:1px solid #e3e6ea;box-shadow:0 0 1.500px rgba(120,130,150,0.35)"></div>
<div class="a" style="left:234.5px;top:495px;width:118px;height:94px;background:#fff;border:1px solid #e3e6ea;box-shadow:0 0 1.500px rgba(120,130,150,0.35)"></div>
<div class="a" style="left:364.5px;top:495px;width:201px;height:94px;background:#fff;border:1px solid #e3e6ea;box-shadow:0 0 1.500px rgba(120,130,150,0.35)"></div>
<div class="a" style="left:578px;top:495px;width:119px;height:94px;background:#fff;border:1px solid #e3e6ea;box-shadow:0 0 1.500px rgba(120,130,150,0.35)"></div>
<div class="a" style="left:113px;top:497px;font-size:9.300px;line-height:14px;font-weight:700;color:#0c50d6;white-space:nowrap">热源</div>
<div class="a" style="left:240px;top:497px;font-size:9.300px;line-height:14px;font-weight:700;color:#0c50d6;white-space:nowrap">管网</div>
<div class="a" style="left:374px;top:497px;font-size:9.300px;line-height:14px;font-weight:700;color:#0c50d6;white-space:nowrap">换热站</div>
<div class="a" style="left:583.5px;top:497px;font-size:9.300px;line-height:14px;font-weight:700;color:#0c50d6;white-space:nowrap">用户</div>
<svg width="900" height="631"><polygon points="223.5,543.800 228.5,543.800 228.5,541.300 233.5,545.700 228.5,550 228.5,547.600 223.5,547.600" fill="#3f9ff2"/><polygon points="353.5,543.800 358.5,543.800 358.5,541.300 363.5,545.700 358.5,550 358.5,547.600 353.5,547.600" fill="#3f9ff2"/><polygon points="566.5,543.800 571.5,543.800 571.5,541.300 576.5,545.700 571.5,550 571.5,547.600 566.5,547.600" fill="#3f9ff2"/></svg>
<svg width="900" height="631"><path d="M125.500 551V528.500H215M145 511v17.500M154.500 528.500v8M197 528.500v14" fill="none" stroke="#d5dbe3" stroke-width="0.800"/><path d="M154.500 547v8M197 556v3" fill="none" stroke="#d5dbe3" stroke-width="0.800" stroke-dasharray="1.500 1.500"/><rect x="136.500" y="515" width="17" height="3.800" rx="1" fill="#222b36"/><rect x="138" y="518.800" width="14" height="1" fill="#9aa3ad"/><g fill="none" stroke="#2f9ef5" stroke-width="1.300" stroke-linecap="round"><path d="M141.500 512.500c2.300-1.800 4.700-1.800 7 0"/><path d="M139.500 510c3.500-2.800 7.500-2.800 11 0"/><path d="M137.800 507.500c4.600-3.800 9.800-3.800 14.400 0"/></g><polygon points="151.5,536.0 158.0,538.0 158.0,547.0 151.5,545.0" fill="#2e8df2"/><polygon points="151.5,536.0 153.0,535.2 159.5,537.2 158.0,538.0" fill="#8cc6fb"/><circle cx="154.8" cy="541.5" r="1.800" fill="#bfe0fd"/><polygon points="151.5,556.0 158.0,558.0 158.0,567.0 151.5,565.0" fill="#2e8df2"/><polygon points="151.5,556.0 153.0,555.2 159.5,557.2 158.0,558.0" fill="#8cc6fb"/><circle cx="154.8" cy="561.5" r="1.800" fill="#bfe0fd"/><polygon points="194,543.0 200.5,545.0 200.5,554.0 194,552.0" fill="#2e8df2"/><polygon points="194,543.0 195.5,542.2 202,544.2 200.5,545.0" fill="#8cc6fb"/><circle cx="197.3" cy="548.5" r="1.800" fill="#bfe0fd"/><g fill="#e8f2fd" stroke="#6ba6ee" stroke-width="0.700"><path d="M114 553.500l5-2.500 5 2.500v6l-5 2.500-5-2.500z"/><path d="M119.500 550.500l5-2.500 5 2.500v6l-5 2.500-5-2.500z"/><path d="M114 553.500l5 2.500 5-2.500M119 556v6M119.500 550.500l5 2.500 5-2.500M124.500 553v6"/></g><g><rect x="191" y="556" width="12.500" height="12.500" fill="#4a4f57"/><path d="M191 559h12.500M191 562h12.500M191 565h12.500M195 556v12.500M199.500 556v12.500" stroke="#aeb4bc" stroke-width="0.700"/></g></svg>
<div class="a" style="left:150.0px;top:511.6px;width:40px;text-align:center;font-size:7.4px;line-height:8.8px;color:#222;font-weight:400;white-space:nowrap">光纤路由</div>
<div class="a" style="left:180.5px;top:521.3000000000001px;width:40px;text-align:center;font-size:7.4px;line-height:8.8px;color:#222;font-weight:400;white-space:nowrap">生产数据<br>采集网关</div>
<div class="a" style="left:128.5px;top:545.6px;width:50px;text-align:center;font-size:7.5px;line-height:8.8px;color:#222;font-weight:400;white-space:nowrap">视频采集模块</div>
<div class="a" style="left:100.5px;top:560.75px;width:40px;text-align:center;font-size:7.4px;line-height:10.5px;color:#222;font-weight:400;white-space:nowrap">子站调度<br>值班员</div>
<div class="a" style="left:134.5px;top:566.4px;width:40px;text-align:center;font-size:7.4px;line-height:8.8px;color:#222;font-weight:400;white-space:nowrap">安防监控<br>系统</div>
<div class="a" style="left:177.0px;top:567.9px;width:40px;text-align:center;font-size:7.3px;line-height:8.2px;color:#222;font-weight:400;white-space:nowrap">热源自动<br>控制系统</div>
<svg width="900" height="631"><defs><linearGradient id="pipe" x1="0" y1="0" x2="1" y2="0"><stop offset="0" stop-color="#6bc0f8"/><stop offset="1" stop-color="#2f9ef5"/></linearGradient></defs><path d="M262 525.500c10 -2 22 -4 35 -4M310 523c10-2 20-1 26 -2c8 -1 12 3 10 7c-3 4-14 5-26 9c-18 5-42 2-46 8c-3 5 14 6 18 12c3 5 12 8 20 10l-6 3l-26 -12" fill="none" stroke="#62bbf8" stroke-width="2" stroke-linejoin="round" opacity="0.8"/><polygon points="260,523.0 269,527.5 260,532.0 251,527.5" fill="#eaf5ff" stroke="#7cc0f8" stroke-width="0.800"/><polygon points="301,518.0 310,522.5 301,527.0 292,522.5" fill="#eaf5ff" stroke="#7cc0f8" stroke-width="0.800"/><polygon points="329.5,530.5 338.5,535 329.5,539.5 320.5,535" fill="#eaf5ff" stroke="#7cc0f8" stroke-width="0.800"/><polygon points="266.5,555.5 275.5,560 266.5,564.5 257.5,560" fill="#eaf5ff" stroke="#7cc0f8" stroke-width="0.800"/><polygon points="301,566.5 310,571 301,575.5 292,571" fill="#eaf5ff" stroke="#7cc0f8" stroke-width="0.800"/><rect x="256.500" y="515.500" width="6" height="11.500" fill="#2b3440"/><rect x="257.500" y="517" width="4" height="2" fill="#4db2ff"/><circle cx="264.500" cy="524" r="4.200" fill="#f6b21b"/><circle cx="264.500" cy="524" r="1.700" fill="#fff3c4"/><g stroke="#f6b21b" stroke-width="1.500"><path d="M264.500 518.500v11M259 524h11M260.600 520.100l7.800 7.800M268.400 520.100l-7.800 7.800"/></g><circle cx="264.500" cy="524" r="2" fill="#fff"/><g fill="none" stroke="#2f9ef5" stroke-width="1" stroke-linecap="round"><path d="M251.500 517c1.300-1 2.700-1 4 0"/><path d="M250.300 515.200c2-1.700 4.400-1.700 6.400 0"/></g><circle cx="253.500" cy="518.500" r="0.800" fill="#2f9ef5"/><polygon points="294,517 309,517 311,520.500 292,520.500" fill="#39434f"/><rect x="292" y="520.500" width="19" height="3.500" fill="#1d242c"/><rect x="294" y="521.500" width="8" height="1.200" fill="#4db2ff"/><g><circle cx="329" cy="521.500" r="3.200" fill="#dfe6ee" stroke="#8a97a6" stroke-width="0.700"/><rect x="327.800" y="524" width="2.400" height="5" fill="#8a97a6"/><rect x="323.500" y="528.500" width="11" height="4.500" rx="1" fill="#2e6fd6"/><rect x="322" y="528" width="2" height="5.500" fill="#9aa6b3"/><rect x="334" y="528" width="2" height="5.500" fill="#9aa6b3"/><path d="M331 519l3-2.500" stroke="#2e6fd6" stroke-width="1.200"/></g><g><rect x="263" y="539.500" width="7" height="5.500" fill="#f2f4f7" stroke="#c0392b" stroke-width="0.900"/><rect x="264.500" y="541" width="4" height="2" fill="#2e6fd6"/><rect x="265.300" y="545" width="2.400" height="4" fill="#8a97a6"/><ellipse cx="266.500" cy="554" rx="5.500" ry="5.500" fill="#2658c9"/><ellipse cx="266.500" cy="554" rx="3" ry="4.200" fill="#3f7fea"/><rect x="259.500" y="550.500" width="2" height="7" fill="#1a3f9a"/><rect x="271.500" y="550.500" width="2" height="7" fill="#1a3f9a"/></g><g><circle cx="301" cy="553" r="6.200" fill="#f5f7fa" stroke="#9aa6b3" stroke-width="1.100"/><circle cx="301" cy="553" r="4.200" fill="#fff" stroke="#cfd6de" stroke-width="0.500"/><path d="M301 553l2.500-2.800" stroke="#c0392b" stroke-width="0.700"/><rect x="299.800" y="559" width="2.400" height="4.500" fill="#8a97a6"/><path d="M298 569l3-6 3 6z" fill="#2e6fd6"/></g></svg>
<div class="a" style="left:265.5px;top:501.3px;width:90px;text-align:center;font-size:7.3px;line-height:8.8px;color:#222;font-weight:400;white-space:nowrap">微功耗 GPRS 采集终端</div>
<div class="a" style="left:251.0px;top:529.9px;width:70px;text-align:center;font-size:7.3px;line-height:8.8px;color:#222;font-weight:400;white-space:nowrap">GPRS 采集终端</div>
<div class="a" style="left:317.0px;top:541.1px;width:30px;text-align:center;font-size:7.4px;line-height:8.8px;color:#222;font-weight:400;white-space:nowrap">阀门</div>
<div class="a" style="left:254.0px;top:566.1px;width:30px;text-align:center;font-size:7.4px;line-height:8.8px;color:#222;font-weight:400;white-space:nowrap">流量计</div>
<div class="a" style="left:286.5px;top:576.1px;width:40px;text-align:center;font-size:7.4px;line-height:8.8px;color:#222;font-weight:400;white-space:nowrap">压力监测</div>
<svg width="900" height="631"><defs><radialGradient id="wc" cx="0.5" cy="0.5" r="0.5"><stop offset="0.5" stop-color="#ffffff"/><stop offset="0.72" stop-color="#dff0fe"/><stop offset="0.88" stop-color="#7cc0f8"/><stop offset="1" stop-color="#2a8ef5"/></radialGradient></defs><path d="M366 560c30-10 60 10 100-2s70-20 98-6M366 575c40 8 90-12 130 0s50 6 68-4M366 520c30 10 50-8 80-4" fill="none" stroke="#dff0fd" stroke-width="1.200"/><path d="M395 525.800H474.500V536.300H461" stroke="#e0332b" stroke-dasharray="1.700 1.100" fill="none" stroke-width="1.500"/><path d="M461 539.200H541" stroke="#f0772a" stroke-dasharray="1.700 1.100" fill="none" stroke-width="1.500"/><path d="M405 557.200H470V546H461" stroke="#2f9ef5" stroke-dasharray="1.700 1.100" fill="none" stroke-width="1.500"/><path d="M395 557.200H425" stroke="#19b6c9" stroke-dasharray="1.700 1.100" fill="none" stroke-width="1.500"/><path d="M461 543.500H475.500V567H543.500M483 567V555H504M483 560H497M519.500 567V580" stroke="#2f7fe8" stroke-dasharray="1.700 1.100" fill="none" stroke-width="1.500"/><path d="M394.500 573.500H420M433 576.500H447M447 571.500H459V582H447ZM459 576H500.500V567M476 581H483" stroke="#22a85a" stroke-dasharray="1.700 1.100" fill="none" stroke-width="1.500"/><path d="M447 571.500V582M453 571.500V565" stroke="#a594d8" stroke-dasharray="1.700 1.100" fill="none" stroke-width="1.500"/><circle cx="381" cy="521.8" r="12.100000000000001" fill="#cfe7fc" opacity="0.75"/><circle cx="381" cy="521.8" r="10.8" fill="url(#wc)" stroke="#2f93f5" stroke-width="0.700"/><circle cx="393.5" cy="544.2" r="11.5" fill="#cfe7fc" opacity="0.75"/><circle cx="393.5" cy="544.2" r="10.2" fill="url(#wc)" stroke="#2f93f5" stroke-width="0.700"/><circle cx="382.8" cy="571.2" r="11.5" fill="#cfe7fc" opacity="0.75"/><circle cx="382.8" cy="571.2" r="10.2" fill="url(#wc)" stroke="#2f93f5" stroke-width="0.700"/><circle cx="548" cy="524.3" r="13.9" fill="#cfe7fc" opacity="0.75"/><circle cx="548" cy="524.3" r="12.6" fill="url(#wc)" stroke="#2f93f5" stroke-width="0.700"/><circle cx="551" cy="554.5" r="11.3" fill="#cfe7fc" opacity="0.75"/><circle cx="551" cy="554.5" r="10" fill="url(#wc)" stroke="#2f93f5" stroke-width="0.700"/><polygon points="452,533 456,531 460,533 460,551 456,553 452,551" fill="#2b7cf0"/><polygon points="456,531 461.500,533.500 461.500,551.500 456,553" fill="#1a56cc"/><path d="M453.500 534v16M455 533.500v17M457.500 533.500v17.500M459.500 534.500v16" stroke="#9cc8ff" stroke-width="0.500"/><polygon points="420,569.500 428.500,566.500 434,568.500 434,580 425.500,583 420,580.500" fill="#2b7cf0"/><polygon points="420,569.500 425.500,572 425.500,583 420,580.500" fill="#1a56cc"/><polygon points="420,569.500 428.500,566.500 434,568.500 425.500,572" fill="#7ab4fa"/><path d="M425.500 574.500l8.500-3M425.500 577l8.500-3M425.500 579.700l8.500-3M428.500 571v11M431.200 570v11" stroke="#bcdcff" stroke-width="0.500"/><rect x="417" y="513.5" width="7.500" height="3" rx="0.600" fill="#1d3f6e"/><rect x="418" y="514.3" width="4" height="1" fill="#cfe3ff" opacity="0.8"/><rect x="427.5" y="511.5" width="7.500" height="3" rx="0.600" fill="#1d3f6e"/><rect x="428.5" y="512.3" width="4" height="1" fill="#cfe3ff" opacity="0.8"/><rect x="437" y="517.5" width="7.500" height="3" rx="0.600" fill="#1d3f6e"/><rect x="438" y="518.3" width="4" height="1" fill="#cfe3ff" opacity="0.8"/><rect x="408.5" y="544" width="7.500" height="3" rx="0.600" fill="#1d3f6e"/><rect x="409.5" y="544.8" width="4" height="1" fill="#cfe3ff" opacity="0.8"/><rect x="421" y="543" width="7.500" height="3" rx="0.600" fill="#1d3f6e"/><rect x="422" y="543.8" width="4" height="1" fill="#cfe3ff" opacity="0.8"/><rect x="506.5" y="526.5" width="7.500" height="3" rx="0.600" fill="#1d3f6e"/><rect x="507.5" y="527.3" width="4" height="1" fill="#cfe3ff" opacity="0.8"/><rect x="520.5" y="524.5" width="7.500" height="3" rx="0.600" fill="#1d3f6e"/><rect x="521.5" y="525.3" width="4" height="1" fill="#cfe3ff" opacity="0.8"/><rect x="478.5" y="558" width="7.500" height="3" rx="0.600" fill="#1d3f6e"/><rect x="479.5" y="558.8" width="4" height="1" fill="#cfe3ff" opacity="0.8"/><rect x="501.5" y="555" width="7.500" height="3" rx="0.600" fill="#1d3f6e"/><rect x="502.5" y="555.8" width="4" height="1" fill="#cfe3ff" opacity="0.8"/><rect x="515" y="552.5" width="7.500" height="3" rx="0.600" fill="#1d3f6e"/><rect x="516" y="553.3" width="4" height="1" fill="#cfe3ff" opacity="0.8"/><rect x="527" y="555" width="7.500" height="3" rx="0.600" fill="#1d3f6e"/><rect x="528" y="555.8" width="4" height="1" fill="#cfe3ff" opacity="0.8"/><rect x="408.5" y="566" width="7.500" height="3" rx="0.600" fill="#1d3f6e"/><rect x="409.5" y="566.8" width="4" height="1" fill="#cfe3ff" opacity="0.8"/><rect x="449.5" y="559.5" width="7.500" height="3" rx="0.600" fill="#1d3f6e"/><rect x="450.5" y="560.3" width="4" height="1" fill="#cfe3ff" opacity="0.8"/><rect x="451" y="581.5" width="7.500" height="3" rx="0.600" fill="#1d3f6e"/><rect x="452" y="582.3" width="4" height="1" fill="#cfe3ff" opacity="0.8"/><circle cx="420.5" cy="519" r="1.500" fill="#fff" stroke="#7a8794" stroke-width="0.500"/><path d="M420.5 520.5v1.800" stroke="#7a8794" stroke-width="0.500"/><circle cx="431.5" cy="517.5" r="1.500" fill="#fff" stroke="#7a8794" stroke-width="0.500"/><path d="M431.5 519.0v1.800" stroke="#7a8794" stroke-width="0.500"/><circle cx="441" cy="523.5" r="1.500" fill="#fff" stroke="#7a8794" stroke-width="0.500"/><path d="M441 525.0v1.800" stroke="#7a8794" stroke-width="0.500"/><circle cx="412" cy="550" r="1.500" fill="#fff" stroke="#7a8794" stroke-width="0.500"/><path d="M412 551.5v1.800" stroke="#7a8794" stroke-width="0.500"/><circle cx="424.5" cy="549.5" r="1.500" fill="#fff" stroke="#7a8794" stroke-width="0.500"/><path d="M424.5 551.0v1.800" stroke="#7a8794" stroke-width="0.500"/><circle cx="510.5" cy="532" r="1.500" fill="#fff" stroke="#7a8794" stroke-width="0.500"/><path d="M510.5 533.5v1.800" stroke="#7a8794" stroke-width="0.500"/><circle cx="524.5" cy="530.5" r="1.500" fill="#fff" stroke="#7a8794" stroke-width="0.500"/><path d="M524.5 532.0v1.800" stroke="#7a8794" stroke-width="0.500"/><circle cx="505" cy="561" r="1.500" fill="#fff" stroke="#7a8794" stroke-width="0.500"/><path d="M505 562.5v1.800" stroke="#7a8794" stroke-width="0.500"/><circle cx="519" cy="559" r="1.500" fill="#fff" stroke="#7a8794" stroke-width="0.500"/><path d="M519 560.5v1.800" stroke="#7a8794" stroke-width="0.500"/><circle cx="530.5" cy="561.5" r="1.500" fill="#fff" stroke="#7a8794" stroke-width="0.500"/><path d="M530.5 563.0v1.800" stroke="#7a8794" stroke-width="0.500"/><rect x="495" y="549" width="6" height="2.600" rx="1.200" fill="#59b84a"/><rect x="495" y="560.5" width="6" height="2.600" rx="1.200" fill="#59b84a"/><rect x="433.5" y="571" width="6" height="2.600" rx="1.200" fill="#59b84a"/><rect x="488.5" y="546.0" width="4" height="5" fill="#e5e9ee" stroke="#9aa6b3" stroke-width="0.500"/><rect x="487.9" y="551.0" width="5.200" height="2" fill="#9aa6b3"/><rect x="488.5" y="557.5" width="4" height="5" fill="#e5e9ee" stroke="#9aa6b3" stroke-width="0.500"/><rect x="487.9" y="562.5" width="5.200" height="2" fill="#9aa6b3"/><rect x="452" y="560.5" width="4" height="5" fill="#e5e9ee" stroke="#9aa6b3" stroke-width="0.500"/><rect x="451.4" y="565.5" width="5.200" height="2" fill="#9aa6b3"/><rect x="452" y="571.0" width="4" height="5" fill="#e5e9ee" stroke="#9aa6b3" stroke-width="0.500"/><rect x="451.4" y="576.0" width="5.200" height="2" fill="#9aa6b3"/><rect x="517.5" y="568.0" width="4" height="5" fill="#e5e9ee" stroke="#9aa6b3" stroke-width="0.500"/><rect x="516.9" y="573.0" width="5.200" height="2" fill="#9aa6b3"/><rect x="535.5" y="541" width="7" height="1" fill="#c5ccd4"/><rect x="538" y="570" width="7" height="1" fill="#c5ccd4"/><rect x="398" y="578" width="7" height="1" fill="#c5ccd4"/></svg>
<div class="a" style="left:369.0px;top:514.6999999999999px;width:24px;text-align:center;font-size:7.4px;line-height:7.4px;color:#1a2a3a;font-weight:400;white-space:nowrap">一次<br>供水</div>
<div class="a" style="left:381.5px;top:537.0999999999999px;width:24px;text-align:center;font-size:6.2px;line-height:7.4px;color:#1a2a3a;font-weight:400;white-space:nowrap">一次<br>回水</div>
<div class="a" style="left:370.8px;top:564.0999999999999px;width:24px;text-align:center;font-size:7px;line-height:7.4px;color:#1a2a3a;font-weight:400;white-space:nowrap">自来<br>水</div>
<div class="a" style="left:536.0px;top:516.9999999999999px;width:24px;text-align:center;font-size:7.6px;line-height:7.4px;color:#1a2a3a;font-weight:400;white-space:nowrap">二次<br>供水</div>
<div class="a" style="left:539.0px;top:547.1999999999999px;width:24px;text-align:center;font-size:5.8px;line-height:7.4px;color:#1a2a3a;font-weight:400;white-space:nowrap">二次<br>回水</div>
<svg width="900" height="631"><defs><radialGradient id="fl" cx="0.5" cy="0.7" r="0.6"><stop offset="0" stop-color="#e8fbff"/><stop offset="0.5" stop-color="#6ed3fb"/><stop offset="1" stop-color="#2f9ef5"/></radialGradient><filter id="b1" x="-30%" y="-30%" width="160%" height="160%"><feGaussianBlur stdDeviation="0.800"/></filter></defs><g fill="none" stroke="#45c4fb"><ellipse cx="638" cy="549" rx="22.500" ry="7.500" stroke-width="1.600" opacity="0.85" transform="rotate(-4 638 549)"/><ellipse cx="636" cy="550.500" rx="32" ry="12" stroke-width="1" opacity="0.600" transform="rotate(-6 636 550)"/><ellipse cx="641" cy="545" rx="36" ry="19" stroke-width="0.600" opacity="0.400" transform="rotate(-14 641 545)"/></g><ellipse cx="638" cy="548.500" rx="15" ry="4.500" fill="#c9efff" filter="url(#b1)"/><circle cx="657.500" cy="522.500" r="1.300" fill="#45c4fb"/><circle cx="614.500" cy="571" r="1" fill="#45c4fb"/><g opacity="0.92"><path d="M639 518.500c1 5 4.500 7.500 5.500 12 1.500-2 1.800-4.200 1.500-6.200 4 4.500 6.500 10 5.500 15.500-.8 4.500-5 7.500-12.500 7.500-8 0-12.500-3.500-12.500-8.500 0-4.500 2.500-7 3.800-10 .800 2 1 4 2.500 5.200 0-6 4-10 6.200-15.500z" fill="url(#fl)"/><path d="M632 532c1.500 3 1 6 2.500 8.500M646 531c-1 3-.5 6-2 9M639 527c-.5 5 1.500 8 .5 13" stroke="#e9fbff" stroke-width="1.100" fill="none" opacity="0.8"/><path d="M639 531c1.200 3.500 3.800 5.500 3.800 9.500 0 3.500-1.800 5.500-4.300 5.500s-4.300-2-4.300-5c0-4 2.800-5.500 4.800-10z" fill="#e8fbff" opacity="0.8"/></g><rect x="584.5" y="520.5" width="24" height="9.5" rx="4.500" fill="#d3ebfc" opacity="0.9"/><rect x="585.8" y="573.3" width="41" height="8.6" rx="4.500" fill="#d3ebfc" opacity="0.9"/><rect x="643" y="576.7" width="44" height="9.2" rx="4.500" fill="#d3ebfc" opacity="0.9"/><g transform="rotate(14 603 523)"><rect x="593" y="514.500" width="13" height="10" rx="1.500" fill="#eef1f5" stroke="#aab4c0" stroke-width="0.600"/><rect x="595" y="516" width="9" height="3" fill="#9fc1d8"/><rect x="596" y="524.500" width="17" height="5" rx="2" fill="#c9d2dc" stroke="#97a3b0" stroke-width="0.500"/><rect x="609" y="518" width="2" height="8" fill="#c0392b"/></g><path d="M608 528l5 6" stroke="#2e6fd6" stroke-width="1"/><path d="M610 527l5 5" stroke="#c0392b" stroke-width="1"/><g><rect x="669.500" y="514.500" width="12.500" height="6" fill="#2a2f36"/><rect x="670.500" y="515.500" width="6" height="2" fill="#5f6a78"/><rect x="674.500" y="520.500" width="3" height="3" fill="#8a6a3a"/><rect x="668" y="523" width="16" height="4.500" rx="1.500" fill="#b8893f"/><circle cx="686" cy="522" r="3" fill="#bfe0fd"/></g><g><polygon points="595,561 608,557 616,565 603,570" fill="#f4f5f7" stroke="#b8bfc8" stroke-width="0.600"/><polygon points="595,561 603,570 603,572 595,563" fill="#d5dae0"/><polygon points="603,570 616,565 616,567 603,572" fill="#c5cbd3"/><polygon points="600,561.500 607,559.500 610,562.500 603,564.800" fill="#3a4350"/></g><g><rect x="668" y="545" width="5.500" height="6" fill="#e8ebef" stroke="#c0392b" stroke-width="0.800"/><ellipse cx="670.700" cy="545" rx="3" ry="1.300" fill="#e74c3c"/><rect x="669.700" y="551" width="2" height="4" fill="#8a97a6"/><rect x="660" y="555" width="20" height="7" rx="1.500" fill="#2b323b"/><rect x="657" y="553" width="3" height="11" fill="#c0392b"/><rect x="680" y="553" width="3" height="11" fill="#39434f"/><rect x="655" y="552.500" width="2.500" height="12" fill="#e74c3c"/><circle cx="670" cy="558.500" r="2" fill="#5f6a78"/></g></svg>
<div class="a" style="left:580.5px;top:533.3499999999999px;width:40px;text-align:center;font-size:7.2px;line-height:7.9px;color:#222;font-weight:400;white-space:nowrap">远传超声<br>波热量表</div>
<div class="a" style="left:650.8px;top:530.6px;width:50px;text-align:center;font-size:7.1px;line-height:8.8px;color:#222;font-weight:400;white-space:nowrap">智能调节阀</div>
<div class="a" style="left:583.5px;top:573.6px;width:50px;text-align:center;font-size:7.1px;line-height:8.8px;color:#222;font-weight:400;white-space:nowrap">室温采集器</div>
<div class="a" style="left:642.5px;top:569.0px;width:50px;text-align:center;font-size:7.1px;line-height:8px;color:#222;font-weight:400;white-space:nowrap">大口径超<br>声波热量表</div>
<div class="c" style="left:790px;top:54.500px;width:60px;height:18px;font-size:14.500px;font-weight:700;color:#111;letter-spacing:2.500px;padding-left:2px">集团</div>
<svg width="900" height="631"><defs><linearGradient id="bld" x1="0" y1="0" x2="0" y2="1"><stop offset="0" stop-color="#3f8ef8"/><stop offset="1" stop-color="#9ccafc"/></linearGradient><linearGradient id="bld2" x1="0" y1="0" x2="0" y2="1"><stop offset="0" stop-color="#2f72ee"/><stop offset="1" stop-color="#78b2fa"/></linearGradient><linearGradient id="darr" x1="0" y1="0" x2="1" y2="0"><stop offset="0" stop-color="#1b74f2"/><stop offset="0.5" stop-color="#3aa4fb"/><stop offset="1" stop-color="#1b74f2"/></linearGradient><linearGradient id="darv" x1="0" y1="0" x2="0" y2="1"><stop offset="0" stop-color="#1b74f2"/><stop offset="0.5" stop-color="#3aa4fb"/><stop offset="1" stop-color="#1b74f2"/></linearGradient></defs><polygon points="788.800,108 809.400,95 837.500,111.400 816.400,124.300" fill="#f4f9ff" stroke="#5d9df8" stroke-width="1"/><polygon points="789.300,109.300 816.400,125.600 837.500,112.700" fill="none" stroke="#a9cbfb" stroke-width="0.800"/><polygon points="834,118.600 843.500,113.600 850.700,117.900 841.400,122.900" fill="#f7fbff" stroke="#6fa9f9" stroke-width="0.800"/><polygon points="811,83 819,76.500 826,80 826,108 818,112 811,108" fill="url(#bld)"/><polygon points="811,83 818,86.500 818,112 811,108" fill="url(#bld2)"/><polygon points="811,83 819,76.500 826,80 818,86.500" fill="#8fc0fc"/><path d="M819 89l6-3M819 92.500l6-3M819 96l6-3M819 99.500l6-3M819 103l6-3M813 87.500l4 2M813 91l4 2M813 94.500l4 2M813 98l4 2" stroke="#d8eaff" stroke-width="0.800"/><polygon points="800,91.500 806,88 812,91 812,106 806,109.500 800,106.500" fill="url(#bld)"/><polygon points="800,91.500 806,94.500 806,109.500 800,106.500" fill="url(#bld2)"/><polygon points="800,91.500 806,88 812,91 806,94.500" fill="#a7cdfd"/><polygon points="823,96 832,91.500 839,95 839,108 830,112.500 823,109" fill="url(#bld)"/><polygon points="823,96 830,99.500 830,112.500 823,109" fill="url(#bld2)"/><polygon points="823,96 832,91.500 839,95 830,99.500" fill="#7fb3fb"/><path d="M831 102l7-3.500M831 105l7-3.500M831 108l7-3.500" stroke="#d8eaff" stroke-width="0.700"/><polygon points="799,104 803,102 806,103.500 806,109 802,111 799,109.500" fill="#f7a94a"/><polygon points="799,104 802,105.500 802,111 799,109.500" fill="#e8862a"/><polygon points="812,113.500 816,111.500 819.500,113.500 819.500,118 815.500,120 812,118" fill="#4a8ff5"/><polygon points="838,105 842.500,103 847,105 847,117 842.500,119.500 838,117" fill="#b9d6fc" opacity="0.55"/><polygon points="839.500,111.500 842.500,110 845.500,111.500 845.500,117 842.500,118.500 839.500,117" fill="#5a9af6" opacity="0.8"/><ellipse cx="794.5" cy="103" rx="2.300" ry="1.800" fill="#4fb0f5"/><path d="M794.5 104.5v3" stroke="#3a7bd5" stroke-width="0.700"/><ellipse cx="823" cy="111" rx="2.300" ry="1.800" fill="#4fb0f5"/><path d="M823 112.5v3" stroke="#3a7bd5" stroke-width="0.700"/><polygon points="824,124.500 830.500,132 826.600,132 826.600,143.500 830.500,143.500 824,151 817.500,143.500 821.400,143.500 821.400,132 817.500,132" fill="url(#darv)"/><polygon points="762.500,212.5 770.500,205.5 770.500,209.2 783,209.2 783,205.5 791,212.5 783,219.5 783,215.8 770.500,215.8 770.500,219.5" fill="url(#darr)"/><polygon points="762.500,374.6 770.500,367.6 770.500,371.3 783,371.3 783,367.6 791,374.6 783,381.6 783,377.90000000000003 770.500,377.90000000000003 770.500,381.6" fill="url(#darr)"/></svg>
<div class="a" style="left:791.500px;top:151.5px;width:71.500px;height:113.5px;background:#fff;border:1.200px solid #2377e4;box-shadow:0 0 2px rgba(35,119,228,0.35)"></div><div class="a" style="left:791.500px;top:151.5px;width:71.500px;height:22.3px;background:#0d62b9"></div><svg style="left:794.500px;top:157.500px" width="10" height="11" viewBox="0 0 20 22" fill="none" stroke="#f5a033" stroke-width="2"><path d="M10 1.500l8 3v7c0 5-3.500 8-8 9.500-4.500-1.500-8-4.500-8-9.500v-7z"/><circle cx="10" cy="8.500" r="2.300" fill="#f5a033" stroke="none"/><path d="M5.500 15.500c.5-3 2.500-4 4.500-4s4 1 4.500 4z" fill="#f5a033" stroke="none"/></svg><div class="a" style="left:806.500px;top:151.5px;height:22.3px;line-height:22.3px;color:#fff;font-weight:700;font-size:9.300px;white-space:nowrap">集团资源平台</div><div class="c" style="left:797.500px;top:183.3px;width:58px;height:15.200px;background:linear-gradient(90deg,#1a5bff 0%,#1f86ff 60%,#25a6fb 100%);color:#fff;font-size:9.300px">资源共享</div><div class="c" style="left:797.500px;top:202.15px;width:58px;height:15.200px;background:linear-gradient(90deg,#1a5bff 0%,#1f86ff 60%,#25a6fb 100%);color:#fff;font-size:9.300px">企业文化</div><div class="c" style="left:797.500px;top:221.0px;width:58px;height:15.200px;background:linear-gradient(90deg,#1a5bff 0%,#1f86ff 60%,#25a6fb 100%);color:#fff;font-size:9.300px">业务协同</div><div class="c" style="left:797.500px;top:239.85000000000002px;width:58px;height:15.200px;background:linear-gradient(90deg,#1a5bff 0%,#1f86ff 60%,#25a6fb 100%);color:#fff;font-size:9.300px">······</div>
<div class="a" style="left:791.500px;top:291.5px;width:71.500px;height:151.0px;background:#fff;border:1.200px solid #2377e4;box-shadow:0 0 2px rgba(35,119,228,0.35)"></div><div class="a" style="left:791.500px;top:291.5px;width:71.500px;height:24.2px;background:#0d62b9"></div><svg style="left:794.500px;top:298.500px" width="10" height="11" viewBox="0 0 20 22"><g fill="#f5a033"><ellipse cx="10" cy="4" rx="8.500" ry="3.500"/><path d="M1.500 7.500c0 4 17 4 17 0v3c0 4-17 4-17 0z"/><path d="M1.500 12.500c0 4 17 4 17 0v3c0 4-17 4-17 0z"/><path d="M1.500 17.500c0 4 17 4 17 0v1c0 4-17 4-17 0z"/></g></svg><div class="a" style="left:806.500px;top:291.5px;height:24.2px;line-height:24.2px;color:#fff;font-weight:700;font-size:9.300px;white-space:nowrap">智慧城市</div><div class="c" style="left:797.500px;top:324.7px;width:58px;height:15.200px;background:linear-gradient(90deg,#1a5bff 0%,#1f86ff 60%,#25a6fb 100%);color:#fff;font-size:9.300px">政策法制</div><div class="c" style="left:797.500px;top:343.7px;width:58px;height:15.200px;background:linear-gradient(90deg,#1a5bff 0%,#1f86ff 60%,#25a6fb 100%);color:#fff;font-size:9.300px">应急指挥</div><div class="c" style="left:797.500px;top:362.7px;width:58px;height:15.200px;background:linear-gradient(90deg,#1a5bff 0%,#1f86ff 60%,#25a6fb 100%);color:#fff;font-size:9.300px">市民服务</div><div class="c" style="left:797.500px;top:381.7px;width:58px;height:15.200px;background:linear-gradient(90deg,#1a5bff 0%,#1f86ff 60%,#25a6fb 100%);color:#fff;font-size:9.300px">均衡供热</div><div class="c" style="left:797.500px;top:400.7px;width:58px;height:15.200px;background:linear-gradient(90deg,#1a5bff 0%,#1f86ff 60%,#25a6fb 100%);color:#fff;font-size:9.300px">城市规划</div><div class="c" style="left:797.500px;top:419.7px;width:58px;height:15.200px;background:linear-gradient(90deg,#1a5bff 0%,#1f86ff 60%,#25a6fb 100%);color:#fff;font-size:9.300px">······</div>
<svg width="900" height="631"><g fill="none" stroke="#1a4fa8" stroke-width="1.100" stroke-linecap="round" transform="rotate(-17 829 512.500)"><path d="M826.500 506.300c-6 .6-10.500 3.200-10.500 6.200 0 3.400 5.800 6.200 13 6.200 1.200 0 2.400-.1 3.500-.2"/><path d="M833.500 506.900c4.800 1 8.500 3.100 8.500 5.600 0 1.900-1.800 3.600-4.800 4.700" stroke-width="1"/></g><ellipse cx="830" cy="506.300" rx="2.200" ry="1.200" fill="#1a4fa8"/><path d="M830 507.500L832 511L836.200 510.200L833 513.500L829.300 523.400L827.600 515L821.500 514.800L827.800 512.200Z" fill="#1a4fa8"/></svg>
<div class="c" style="left:809px;top:524.200px;width:40px;height:5px;font-size:3.700px;font-weight:700;font-style:italic;color:#1a4fa8;letter-spacing:0.450px">SUNTRONT</div>
<div class="a" style="left:819px;top:531px;width:20px;text-align:center;font-size:16px;line-height:17.200px;color:#1a4fa8;font-weight:500">新<br>天<br>科<br>技</div>
<svg width="900" height="631"><rect x="516" y="29" width="46" height="28" rx="1.500" fill="#15181d"/><rect x="518" y="31" width="42" height="22.500" fill="#f7fafd"/><rect x="518" y="31" width="42" height="2.200" fill="#e6eef8"/><rect x="520.5" y="34.500" width="2.600" height="3.600" rx="0.500" fill="#3b8df2"/><rect x="527.1" y="34.500" width="2.600" height="3.600" rx="0.500" fill="#3b8df2"/><rect x="533.7" y="34.500" width="2.600" height="3.600" rx="0.500" fill="#3b8df2"/><rect x="540.3" y="34.500" width="2.600" height="3.600" rx="0.500" fill="#3b8df2"/><rect x="546.9" y="34.500" width="2.600" height="3.600" rx="0.500" fill="#3b8df2"/><rect x="553.5" y="34.500" width="2.600" height="3.600" rx="0.500" fill="#3b8df2"/><rect x="535.5" y="42.5" width="1.300" height="8" fill="#35c8d8"/><rect x="537.7" y="41.5" width="1.300" height="9" fill="#35c8d8"/><rect x="539.9" y="42.5" width="1.300" height="8" fill="#35c8d8"/><rect x="542.1" y="41.5" width="1.300" height="9" fill="#35c8d8"/><rect x="551" y="41.0" width="3.500" height="2" fill="#f2994a"/><rect x="551" y="43.3" width="3.500" height="2" fill="#f2c94c"/><rect x="551" y="45.6" width="3.500" height="2" fill="#6fcf97"/><rect x="551" y="47.9" width="3.500" height="2" fill="#56ccf2"/><path d="M521 51c1.500-3 5-3 6.500 0" stroke="#eb5757" stroke-width="1" fill="none"/><path d="M524 49.500c1.500-.8 3-.3 3.500 1.500" stroke="#2f80ed" stroke-width="1" fill="none"/><path d="M520.500 41.500h11M520.500 44h9M520.500 46.500h11" stroke="#dbe4ee" stroke-width="0.600"/><polygon points="536,57 542,57 543.500,61.500 534.500,61.500" fill="#c9ced6"/><rect x="532" y="61.500" width="14" height="1.700" rx="0.800" fill="#e1e5ea"/><rect x="587.500" y="32" width="40" height="25.500" rx="1.500" fill="#15181d"/><rect x="589.500" y="34" width="36" height="21.500" fill="#f5f8fb"/><rect x="589.500" y="34" width="36" height="2.300" fill="#e6eef8"/><rect x="617" y="34.400" width="3" height="1.500" fill="#f2994a"/><rect x="621" y="34.400" width="3" height="1.500" fill="#2f80ed"/><path d="M593 40c4-2 6 3 10 1s5 3 9 2 6-3 11-1M595 45c4 2 7-2 11 0s8 3 12 0" stroke="#f2994a" stroke-width="0.700" fill="none"/><path d="M592 43c5 1 8-3 12-1s9 4 14 1" stroke="#56ccf2" stroke-width="0.700" fill="none"/><rect x="606.0" y="51.5" width="1.200" height="2.5" fill="#f2711c"/><rect x="607.8" y="50.8" width="1.200" height="3.2" fill="#f2711c"/><rect x="609.6" y="50.1" width="1.200" height="3.9" fill="#f2711c"/><rect x="611.4" y="51.5" width="1.200" height="2.5" fill="#f2711c"/><rect x="613.2" y="50.8" width="1.200" height="3.2" fill="#f2711c"/><rect x="615.0" y="50.1" width="1.200" height="3.9" fill="#f2711c"/><rect x="616.8" y="51.5" width="1.200" height="2.5" fill="#f2711c"/><rect x="618.6" y="50.8" width="1.200" height="3.2" fill="#f2711c"/><rect x="620.4" y="50.1" width="1.200" height="3.9" fill="#f2711c"/><rect x="597" y="51.500" width="5" height="2" fill="#6fcf97"/><polygon points="585.500,57.500 632,57.500 630,59.300 587.500,59.300" fill="#c5cad2"/><rect x="574" y="39" width="15.500" height="21" rx="1.200" fill="#15181d"/><rect x="575.300" y="40.500" width="13" height="18" fill="#f7fafd"/><circle cx="579.500" cy="46" r="2.300" fill="none" stroke="#bb6bd9" stroke-width="0.900"/><path d="M579.500 43.700a2.300 2.300 0 0 1 2.300 2.300" stroke="#2f80ed" stroke-width="0.900" fill="none"/><rect x="577" y="53" width="1.300" height="3.500" fill="#2f80ed"/><rect x="580" y="52" width="1.300" height="4.500" fill="#56ccf2"/><rect x="584" y="44.500" width="7.800" height="16.500" rx="1.300" fill="#20242b"/><rect x="585" y="46.300" width="5.800" height="12.500" fill="#2e3540"/><circle cx="587.900" cy="51" r="1.600" fill="none" stroke="#f2711c" stroke-width="0.700"/><rect x="585.600" y="55.500" width="4.600" height="2" fill="#f2711c"/><rect x="636.500" y="29" width="57" height="34.500" fill="#eef0f1"/><polygon points="636.500,29 693.500,29 685,35 645,35" fill="#fafbfb"/><rect x="650" y="30.500" width="30" height="1.300" fill="#fff" stroke="#d9dcde" stroke-width="0.300"/><polygon points="636.500,29 645,35 645,50 636.500,56" fill="#d9dde0"/><polygon points="693.500,29 685,35 685,50 693.500,56" fill="#d9dde0"/><rect x="638.500" y="36" width="2" height="14" fill="#6a88b0"/><rect x="641.500" y="37" width="1.800" height="12" fill="#6a88b0"/><rect x="689.500" y="36" width="2" height="14" fill="#6a88b0"/><rect x="686.800" y="37" width="1.800" height="12" fill="#6a88b0"/><rect x="652" y="35.500" width="32.500" height="10.500" fill="#1b2540"/><rect x="653" y="36.300" width="30.500" height="1.300" fill="#2a3c6a"/><rect x="654" y="38.500" width="4.500" height="3" fill="#31508f"/><rect x="654" y="42.300" width="4.500" height="2.600" fill="#27407a"/><rect x="660" y="38.500" width="4.500" height="3" fill="#31508f"/><rect x="660" y="42.300" width="4.500" height="2.600" fill="#27407a"/><rect x="666" y="38.500" width="4.500" height="3" fill="#31508f"/><rect x="666" y="42.300" width="4.500" height="2.600" fill="#27407a"/><rect x="672" y="38.500" width="4.500" height="3" fill="#31508f"/><rect x="672" y="42.300" width="4.500" height="2.600" fill="#27407a"/><rect x="678" y="38.500" width="4.500" height="3" fill="#31508f"/><rect x="678" y="42.300" width="4.500" height="2.600" fill="#27407a"/><rect x="664" y="36.500" width="8" height="1" fill="#e8a33a"/><polygon points="636.500,56 645,50 685,50 693.500,56 693.500,63.500 636.500,63.500" fill="#cfc9c4"/><rect x="641" y="51" width="48" height="2" fill="#f2f2f2"/><rect x="639" y="57" width="52" height="2.500" fill="#f5f5f5"/><rect x="644.5" y="47.500" width="5.500" height="3.800" fill="#1a1d24"/><rect x="645.3" y="48.200" width="3.900" height="2.400" fill="#3a66c4"/><rect x="653.7" y="47.500" width="5.500" height="3.800" fill="#1a1d24"/><rect x="654.5" y="48.200" width="3.900" height="2.400" fill="#3a66c4"/><rect x="662.9" y="47.500" width="5.500" height="3.800" fill="#1a1d24"/><rect x="663.6999999999999" y="48.200" width="3.900" height="2.400" fill="#3a66c4"/><rect x="672.1" y="47.500" width="5.500" height="3.800" fill="#1a1d24"/><rect x="672.9" y="48.200" width="3.900" height="2.400" fill="#3a66c4"/><rect x="681.3" y="47.500" width="5.500" height="3.800" fill="#1a1d24"/><rect x="682.0999999999999" y="48.200" width="3.900" height="2.400" fill="#3a66c4"/><rect x="641" y="53.300" width="5.500" height="3.600" fill="#2a2d35"/><rect x="642" y="60" width="5" height="3.500" fill="#5a4d45"/><rect x="650" y="53.300" width="5.500" height="3.600" fill="#2a2d35"/><rect x="651" y="60" width="5" height="3.500" fill="#5a4d45"/><rect x="659" y="53.300" width="5.500" height="3.600" fill="#2a2d35"/><rect x="660" y="60" width="5" height="3.500" fill="#5a4d45"/><rect x="668" y="53.300" width="5.500" height="3.600" fill="#2a2d35"/><rect x="669" y="60" width="5" height="3.500" fill="#5a4d45"/><rect x="677" y="53.300" width="5.500" height="3.600" fill="#2a2d35"/><rect x="678" y="60" width="5" height="3.500" fill="#5a4d45"/><rect x="686" y="53.300" width="5.500" height="3.600" fill="#2a2d35"/><rect x="687" y="60" width="5" height="3.500" fill="#5a4d45"/></svg>
<div class="a" style="left:0;top:0;width:900px;height:631px;overflow:hidden;pointer-events:none"><div class="a" style="left:742px;top:-37px;transform-origin:0 100%;transform:rotate(-45deg);white-space:nowrap;font-size:15px;line-height:18px;color:#aabedc;opacity:0.13"><svg style="position:static;vertical-align:-3px;margin-right:1px" width="19" height="15" viewBox="814 503 30 22"><g fill="none" stroke="#aabedc" stroke-width="1.200" stroke-linecap="round" transform="rotate(-17 829 512.500)"><path d="M826.500 506.300c-6 .6-10.500 3.200-10.500 6.200 0 3.400 5.800 6.200 13 6.200 1.200 0 2.400-.1 3.500-.2"/><path d="M833.500 506.900c4.800 1 8.500 3.100 8.500 5.600 0 1.900-1.800 3.600-4.800 4.700"/></g><ellipse cx="830" cy="506.300" rx="2.200" ry="1.200" fill="#aabedc"/><path d="M830 507.500L832 511L836.200 510.200L833 513.500L829.300 523.400L827.600 515L821.500 514.800L827.800 512.200Z" fill="#aabedc"/></svg>新天科技 智慧热力</div><div class="a" style="left:601px;top:-37px;transform-origin:0 100%;transform:rotate(-45deg);white-space:nowrap;font-size:15px;line-height:18px;color:#aabedc;opacity:0.13"><svg style="position:static;vertical-align:-3px;margin-right:1px" width="19" height="15" viewBox="814 503 30 22"><g fill="none" stroke="#aabedc" stroke-width="1.200" stroke-linecap="round" transform="rotate(-17 829 512.500)"><path d="M826.500 506.300c-6 .6-10.500 3.200-10.500 6.200 0 3.400 5.800 6.200 13 6.200 1.200 0 2.400-.1 3.500-.2"/><path d="M833.500 506.900c4.800 1 8.500 3.100 8.500 5.600 0 1.900-1.800 3.600-4.800 4.700"/></g><ellipse cx="830" cy="506.300" rx="2.200" ry="1.200" fill="#aabedc"/><path d="M830 507.500L832 511L836.200 510.200L833 513.500L829.300 523.400L827.600 515L821.500 514.800L827.800 512.200Z" fill="#aabedc"/></svg>新天科技 智慧热力</div><div class="a" style="left:460px;top:-37px;transform-origin:0 100%;transform:rotate(-45deg);white-space:nowrap;font-size:15px;line-height:18px;color:#aabedc;opacity:0.13"><svg style="position:static;vertical-align:-3px;margin-right:1px" width="19" height="15" viewBox="814 503 30 22"><g fill="none" stroke="#aabedc" stroke-width="1.200" stroke-linecap="round" transform="rotate(-17 829 512.500)"><path d="M826.500 506.300c-6 .6-10.500 3.200-10.500 6.200 0 3.400 5.800 6.200 13 6.200 1.200 0 2.400-.1 3.500-.2"/><path d="M833.500 506.900c4.800 1 8.500 3.100 8.500 5.600 0 1.900-1.800 3.600-4.800 4.700"/></g><ellipse cx="830" cy="506.300" rx="2.200" ry="1.200" fill="#aabedc"/><path d="M830 507.500L832 511L836.200 510.200L833 513.500L829.300 523.400L827.600 515L821.500 514.800L827.800 512.200Z" fill="#aabedc"/></svg>新天科技 智慧热力</div><div class="a" style="left:319px;top:-37px;transform-origin:0 100%;transform:rotate(-45deg);white-space:nowrap;font-size:15px;line-height:18px;color:#aabedc;opacity:0.13"><svg style="position:static;vertical-align:-3px;margin-right:1px" width="19" height="15" viewBox="814 503 30 22"><g fill="none" stroke="#aabedc" stroke-width="1.200" stroke-linecap="round" transform="rotate(-17 829 512.500)"><path d="M826.500 506.300c-6 .6-10.500 3.200-10.500 6.200 0 3.400 5.800 6.200 13 6.200 1.200 0 2.400-.1 3.500-.2"/><path d="M833.500 506.900c4.800 1 8.500 3.100 8.500 5.600 0 1.900-1.800 3.600-4.800 4.700"/></g><ellipse cx="830" cy="506.300" rx="2.200" ry="1.200" fill="#aabedc"/><path d="M830 507.500L832 511L836.200 510.200L833 513.500L829.300 523.400L827.600 515L821.500 514.800L827.800 512.200Z" fill="#aabedc"/></svg>新天科技 智慧热力</div><div class="a" style="left:178px;top:-37px;transform-origin:0 100%;transform:rotate(-45deg);white-space:nowrap;font-size:15px;line-height:18px;color:#aabedc;opacity:0.13"><svg style="position:static;vertical-align:-3px;margin-right:1px" width="19" height="15" viewBox="814 503 30 22"><g fill="none" stroke="#aabedc" stroke-width="1.200" stroke-linecap="round" transform="rotate(-17 829 512.500)"><path d="M826.500 506.300c-6 .6-10.500 3.200-10.500 6.200 0 3.400 5.800 6.200 13 6.200 1.200 0 2.400-.1 3.500-.2"/><path d="M833.500 506.900c4.800 1 8.500 3.100 8.500 5.600 0 1.900-1.800 3.600-4.800 4.700"/></g><ellipse cx="830" cy="506.300" rx="2.200" ry="1.200" fill="#aabedc"/><path d="M830 507.500L832 511L836.200 510.200L833 513.500L829.300 523.400L827.600 515L821.500 514.800L827.800 512.200Z" fill="#aabedc"/></svg>新天科技 智慧热力</div><div class="a" style="left:37px;top:-37px;transform-origin:0 100%;transform:rotate(-45deg);white-space:nowrap;font-size:15px;line-height:18px;color:#aabedc;opacity:0.13"><svg style="position:static;vertical-align:-3px;margin-right:1px" width="19" height="15" viewBox="814 503 30 22"><g fill="none" stroke="#aabedc" stroke-width="1.200" stroke-linecap="round" transform="rotate(-17 829 512.500)"><path d="M826.500 506.300c-6 .6-10.500 3.200-10.500 6.200 0 3.400 5.800 6.200 13 6.200 1.200 0 2.400-.1 3.500-.2"/><path d="M833.500 506.900c4.800 1 8.500 3.100 8.500 5.600 0 1.900-1.800 3.600-4.800 4.700"/></g><ellipse cx="830" cy="506.300" rx="2.200" ry="1.200" fill="#aabedc"/><path d="M830 507.500L832 511L836.200 510.200L833 513.500L829.300 523.400L827.600 515L821.500 514.800L827.800 512.200Z" fill="#aabedc"/></svg>新天科技 智慧热力</div><div class="a" style="left:-104px;top:-37px;transform-origin:0 100%;transform:rotate(-45deg);white-space:nowrap;font-size:15px;line-height:18px;color:#aabedc;opacity:0.13"><svg style="position:static;vertical-align:-3px;margin-right:1px" width="19" height="15" viewBox="814 503 30 22"><g fill="none" stroke="#aabedc" stroke-width="1.200" stroke-linecap="round" transform="rotate(-17 829 512.500)"><path d="M826.500 506.300c-6 .6-10.500 3.200-10.500 6.200 0 3.400 5.800 6.200 13 6.200 1.200 0 2.400-.1 3.500-.2"/><path d="M833.500 506.900c4.800 1 8.500 3.100 8.500 5.600 0 1.900-1.800 3.600-4.800 4.700"/></g><ellipse cx="830" cy="506.300" rx="2.200" ry="1.200" fill="#aabedc"/><path d="M830 507.500L832 511L836.200 510.200L833 513.500L829.300 523.400L827.600 515L821.500 514.800L827.800 512.200Z" fill="#aabedc"/></svg>新天科技 智慧热力</div><div class="a" style="left:-245px;top:-37px;transform-origin:0 100%;transform:rotate(-45deg);white-space:nowrap;font-size:15px;line-height:18px;color:#aabedc;opacity:0.13"><svg style="position:static;vertical-align:-3px;margin-right:1px" width="19" height="15" viewBox="814 503 30 22"><g fill="none" stroke="#aabedc" stroke-width="1.200" stroke-linecap="round" transform="rotate(-17 829 512.500)"><path d="M826.500 506.300c-6 .6-10.500 3.200-10.500 6.200 0 3.400 5.800 6.200 13 6.200 1.200 0 2.400-.1 3.500-.2"/><path d="M833.500 506.900c4.800 1 8.500 3.100 8.500 5.600 0 1.900-1.800 3.600-4.800 4.700"/></g><ellipse cx="830" cy="506.300" rx="2.200" ry="1.200" fill="#aabedc"/><path d="M830 507.500L832 511L836.200 510.200L833 513.500L829.300 523.400L827.600 515L821.500 514.800L827.800 512.200Z" fill="#aabedc"/></svg>新天科技 智慧热力</div><div class="a" style="left:745px;top:71px;transform-origin:0 100%;transform:rotate(-45deg);white-space:nowrap;font-size:15px;line-height:18px;color:#aabedc;opacity:0.13"><svg style="position:static;vertical-align:-3px;margin-right:1px" width="19" height="15" viewBox="814 503 30 22"><g fill="none" stroke="#aabedc" stroke-width="1.200" stroke-linecap="round" transform="rotate(-17 829 512.500)"><path d="M826.500 506.300c-6 .6-10.500 3.200-10.500 6.200 0 3.400 5.800 6.200 13 6.200 1.200 0 2.400-.1 3.500-.2"/><path d="M833.500 506.900c4.800 1 8.500 3.100 8.500 5.600 0 1.900-1.800 3.600-4.800 4.700"/></g><ellipse cx="830" cy="506.300" rx="2.200" ry="1.200" fill="#aabedc"/><path d="M830 507.500L832 511L836.200 510.200L833 513.500L829.300 523.400L827.600 515L821.500 514.800L827.800 512.200Z" fill="#aabedc"/></svg>新天科技 智慧热力</div><div class="a" style="left:604px;top:71px;transform-origin:0 100%;transform:rotate(-45deg);white-space:nowrap;font-size:15px;line-height:18px;color:#aabedc;opacity:0.13"><svg style="position:static;vertical-align:-3px;margin-right:1px" width="19" height="15" viewBox="814 503 30 22"><g fill="none" stroke="#aabedc" stroke-width="1.200" stroke-linecap="round" transform="rotate(-17 829 512.500)"><path d="M826.500 506.300c-6 .6-10.500 3.200-10.500 6.200 0 3.400 5.800 6.200 13 6.200 1.200 0 2.400-.1 3.500-.2"/><path d="M833.500 506.900c4.800 1 8.500 3.100 8.500 5.600 0 1.900-1.800 3.600-4.800 4.700"/></g><ellipse cx="830" cy="506.300" rx="2.200" ry="1.200" fill="#aabedc"/><path d="M830 507.500L832 511L836.200 510.200L833 513.500L829.300 523.400L827.600 515L821.500 514.800L827.800 512.200Z" fill="#aabedc"/></svg>新天科技 智慧热力</div><div class="a" style="left:463px;top:71px;transform-origin:0 100%;transform:rotate(-45deg);white-space:nowrap;font-size:15px;line-height:18px;color:#aabedc;opacity:0.13"><svg style="position:static;vertical-align:-3px;margin-right:1px" width="19" height="15" viewBox="814 503 30 22"><g fill="none" stroke="#aabedc" stroke-width="1.200" stroke-linecap="round" transform="rotate(-17 829 512.500)"><path d="M826.500 506.300c-6 .6-10.500 3.200-10.500 6.200 0 3.400 5.800 6.200 13 6.200 1.200 0 2.400-.1 3.500-.2"/><path d="M833.500 506.900c4.800 1 8.500 3.100 8.500 5.600 0 1.900-1.800 3.600-4.800 4.700"/></g><ellipse cx="830" cy="506.300" rx="2.200" ry="1.200" fill="#aabedc"/><path d="M830 507.500L832 511L836.200 510.200L833 513.500L829.300 523.400L827.600 515L821.500 514.800L827.800 512.200Z" fill="#aabedc"/></svg>新天科技 智慧热力</div><div class="a" style="left:322px;top:71px;transform-origin:0 100%;transform:rotate(-45deg);white-space:nowrap;font-size:15px;line-height:18px;color:#aabedc;opacity:0.13"><svg style="position:static;vertical-align:-3px;margin-right:1px" width="19" height="15" viewBox="814 503 30 22"><g fill="none" stroke="#aabedc" stroke-width="1.200" stroke-linecap="round" transform="rotate(-17 829 512.500)"><path d="M826.500 506.300c-6 .6-10.500 3.200-10.500 6.200 0 3.400 5.800 6.200 13 6.200 1.200 0 2.400-.1 3.500-.2"/><path d="M833.500 506.900c4.800 1 8.500 3.100 8.500 5.600 0 1.900-1.800 3.600-4.800 4.700"/></g><ellipse cx="830" cy="506.300" rx="2.200" ry="1.200" fill="#aabedc"/><path d="M830 507.500L832 511L836.200 510.200L833 513.500L829.300 523.400L827.600 515L821.500 514.800L827.800 512.200Z" fill="#aabedc"/></svg>新天科技 智慧热力</div><div class="a" style="left:181px;top:71px;transform-origin:0 100%;transform:rotate(-45deg);white-space:nowrap;font-size:15px;line-height:18px;color:#aabedc;opacity:0.13"><svg style="position:static;vertical-align:-3px;margin-right:1px" width="19" height="15" viewBox="814 503 30 22"><g fill="none" stroke="#aabedc" stroke-width="1.200" stroke-linecap="round" transform="rotate(-17 829 512.500)"><path d="M826.500 506.300c-6 .6-10.500 3.200-10.500 6.200 0 3.400 5.800 6.200 13 6.200 1.200 0 2.400-.1 3.500-.2"/><path d="M833.500 506.900c4.800 1 8.500 3.100 8.500 5.600 0 1.900-1.800 3.600-4.800 4.700"/></g><ellipse cx="830" cy="506.300" rx="2.200" ry="1.200" fill="#aabedc"/><path d="M830 507.500L832 511L836.200 510.200L833 513.500L829.300 523.400L827.600 515L821.500 514.800L827.800 512.200Z" fill="#aabedc"/></svg>新天科技 智慧热力</div><div class="a" style="left:40px;top:71px;transform-origin:0 100%;transform:rotate(-45deg);white-space:nowrap;font-size:15px;line-height:18px;color:#aabedc;opacity:0.13"><svg style="position:static;vertical-align:-3px;margin-right:1px" width="19" height="15" viewBox="814 503 30 22"><g fill="none" stroke="#aabedc" stroke-width="1.200" stroke-linecap="round" transform="rotate(-17 829 512.500)"><path d="M826.500 506.300c-6 .6-10.500 3.200-10.500 6.200 0 3.400 5.800 6.200 13 6.200 1.200 0 2.400-.1 3.500-.2"/><path d="M833.500 506.900c4.800 1 8.500 3.100 8.500 5.600 0 1.900-1.800 3.600-4.800 4.700"/></g><ellipse cx="830" cy="506.300" rx="2.200" ry="1.200" fill="#aabedc"/><path d="M830 507.500L832 511L836.200 510.200L833 513.500L829.300 523.400L827.600 515L821.500 514.800L827.800 512.200Z" fill="#aabedc"/></svg>新天科技 智慧热力</div><div class="a" style="left:-101px;top:71px;transform-origin:0 100%;transform:rotate(-45deg);white-space:nowrap;font-size:15px;line-height:18px;color:#aabedc;opacity:0.13"><svg style="position:static;vertical-align:-3px;margin-right:1px" width="19" height="15" viewBox="814 503 30 22"><g fill="none" stroke="#aabedc" stroke-width="1.200" stroke-linecap="round" transform="rotate(-17 829 512.500)"><path d="M826.500 506.300c-6 .6-10.500 3.200-10.500 6.200 0 3.400 5.800 6.200 13 6.200 1.200 0 2.400-.1 3.500-.2"/><path d="M833.500 506.900c4.800 1 8.500 3.100 8.500 5.600 0 1.900-1.800 3.600-4.800 4.700"/></g><ellipse cx="830" cy="506.300" rx="2.200" ry="1.200" fill="#aabedc"/><path d="M830 507.500L832 511L836.200 510.200L833 513.500L829.300 523.400L827.600 515L821.500 514.800L827.800 512.200Z" fill="#aabedc"/></svg>新天科技 智慧热力</div><div class="a" style="left:-242px;top:71px;transform-origin:0 100%;transform:rotate(-45deg);white-space:nowrap;font-size:15px;line-height:18px;color:#aabedc;opacity:0.13"><svg style="position:static;vertical-align:-3px;margin-right:1px" width="19" height="15" viewBox="814 503 30 22"><g fill="none" stroke="#aabedc" stroke-width="1.200" stroke-linecap="round" transform="rotate(-17 829 512.500)"><path d="M826.500 506.300c-6 .6-10.500 3.200-10.500 6.200 0 3.400 5.800 6.200 13 6.200 1.200 0 2.400-.1 3.500-.2"/><path d="M833.500 506.900c4.800 1 8.500 3.100 8.500 5.600 0 1.900-1.800 3.600-4.800 4.700"/></g><ellipse cx="830" cy="506.300" rx="2.200" ry="1.200" fill="#aabedc"/><path d="M830 507.500L832 511L836.200 510.200L833 513.500L829.300 523.400L827.600 515L821.500 514.800L827.800 512.200Z" fill="#aabedc"/></svg>新天科技 智慧热力</div><div class="a" style="left:748px;top:179px;transform-origin:0 100%;transform:rotate(-45deg);white-space:nowrap;font-size:15px;line-height:18px;color:#aabedc;opacity:0.13"><svg style="position:static;vertical-align:-3px;margin-right:1px" width="19" height="15" viewBox="814 503 30 22"><g fill="none" stroke="#aabedc" stroke-width="1.200" stroke-linecap="round" transform="rotate(-17 829 512.500)"><path d="M826.500 506.300c-6 .6-10.500 3.200-10.500 6.200 0 3.400 5.800 6.200 13 6.200 1.200 0 2.400-.1 3.500-.2"/><path d="M833.500 506.900c4.800 1 8.500 3.100 8.500 5.600 0 1.900-1.800 3.600-4.800 4.700"/></g><ellipse cx="830" cy="506.300" rx="2.200" ry="1.200" fill="#aabedc"/><path d="M830 507.500L832 511L836.200 510.200L833 513.500L829.300 523.400L827.600 515L821.500 514.800L827.800 512.200Z" fill="#aabedc"/></svg>新天科技 智慧热力</div><div class="a" style="left:607px;top:179px;transform-origin:0 100%;transform:rotate(-45deg);white-space:nowrap;font-size:15px;line-height:18px;color:#aabedc;opacity:0.13"><svg style="position:static;vertical-align:-3px;margin-right:1px" width="19" height="15" viewBox="814 503 30 22"><g fill="none" stroke="#aabedc" stroke-width="1.200" stroke-linecap="round" transform="rotate(-17 829 512.500)"><path d="M826.500 506.300c-6 .6-10.500 3.200-10.500 6.200 0 3.400 5.800 6.200 13 6.200 1.200 0 2.400-.1 3.500-.2"/><path d="M833.500 506.900c4.800 1 8.500 3.100 8.500 5.600 0 1.900-1.800 3.600-4.800 4.700"/></g><ellipse cx="830" cy="506.300" rx="2.200" ry="1.200" fill="#aabedc"/><path d="M830 507.500L832 511L836.200 510.200L833 513.500L829.300 523.400L827.600 515L821.500 514.800L827.800 512.200Z" fill="#aabedc"/></svg>新天科技 智慧热力</div><div class="a" style="left:466px;top:179px;transform-origin:0 100%;transform:rotate(-45deg);white-space:nowrap;font-size:15px;line-height:18px;color:#aabedc;opacity:0.13"><svg style="position:static;vertical-align:-3px;margin-right:1px" width="19" height="15" viewBox="814 503 30 22"><g fill="none" stroke="#aabedc" stroke-width="1.200" stroke-linecap="round" transform="rotate(-17 829 512.500)"><path d="M826.500 506.300c-6 .6-10.500 3.200-10.500 6.200 0 3.400 5.800 6.200 13 6.200 1.200 0 2.400-.1 3.500-.2"/><path d="M833.500 506.900c4.800 1 8.500 3.100 8.500 5.600 0 1.900-1.800 3.600-4.800 4.700"/></g><ellipse cx="830" cy="506.300" rx="2.200" ry="1.200" fill="#aabedc"/><path d="M830 507.500L832 511L836.200 510.200L833 513.500L829.300 523.400L827.600 515L821.500 514.800L827.800 512.200Z" fill="#aabedc"/></svg>新天科技 智慧热力</div><div class="a" style="left:325px;top:179px;transform-origin:0 100%;transform:rotate(-45deg);white-space:nowrap;font-size:15px;line-height:18px;color:#aabedc;opacity:0.13"><svg style="position:static;vertical-align:-3px;margin-right:1px" width="19" height="15" viewBox="814 503 30 22"><g fill="none" stroke="#aabedc" stroke-width="1.200" stroke-linecap="round" transform="rotate(-17 829 512.500)"><path d="M826.500 506.300c-6 .6-10.500 3.200-10.500 6.200 0 3.400 5.800 6.200 13 6.200 1.200 0 2.400-.1 3.500-.2"/><path d="M833.500 506.900c4.800 1 8.500 3.100 8.500 5.600 0 1.900-1.800 3.600-4.800 4.700"/></g><ellipse cx="830" cy="506.300" rx="2.200" ry="1.200" fill="#aabedc"/><path d="M830 507.500L832 511L836.200 510.200L833 513.500L829.300 523.400L827.600 515L821.500 514.800L827.800 512.200Z" fill="#aabedc"/></svg>新天科技 智慧热力</div><div class="a" style="left:184px;top:179px;transform-origin:0 100%;transform:rotate(-45deg);white-space:nowrap;font-size:15px;line-height:18px;color:#aabedc;opacity:0.13"><svg style="position:static;vertical-align:-3px;margin-right:1px" width="19" height="15" viewBox="814 503 30 22"><g fill="none" stroke="#aabedc" stroke-width="1.200" stroke-linecap="round" transform="rotate(-17 829 512.500)"><path d="M826.500 506.300c-6 .6-10.500 3.200-10.500 6.200 0 3.400 5.800 6.200 13 6.200 1.200 0 2.400-.1 3.500-.2"/><path d="M833.500 506.900c4.800 1 8.500 3.100 8.500 5.600 0 1.900-1.800 3.600-4.800 4.700"/></g><ellipse cx="830" cy="506.300" rx="2.200" ry="1.200" fill="#aabedc"/><path d="M830 507.500L832 511L836.200 510.200L833 513.500L829.300 523.400L827.600 515L821.500 514.800L827.800 512.200Z" fill="#aabedc"/></svg>新天科技 智慧热力</div><div class="a" style="left:43px;top:179px;transform-origin:0 100%;transform:rotate(-45deg);white-space:nowrap;font-size:15px;line-height:18px;color:#aabedc;opacity:0.13"><svg style="position:static;vertical-align:-3px;margin-right:1px" width="19" height="15" viewBox="814 503 30 22"><g fill="none" stroke="#aabedc" stroke-width="1.200" stroke-linecap="round" transform="rotate(-17 829 512.500)"><path d="M826.500 506.300c-6 .6-10.500 3.200-10.500 6.200 0 3.400 5.800 6.200 13 6.200 1.200 0 2.400-.1 3.500-.2"/><path d="M833.500 506.900c4.800 1 8.500 3.100 8.500 5.600 0 1.900-1.800 3.600-4.800 4.700"/></g><ellipse cx="830" cy="506.300" rx="2.200" ry="1.200" fill="#aabedc"/><path d="M830 507.500L832 511L836.200 510.200L833 513.500L829.300 523.400L827.600 515L821.500 514.800L827.800 512.200Z" fill="#aabedc"/></svg>新天科技 智慧热力</div><div class="a" style="left:-98px;top:179px;transform-origin:0 100%;transform:rotate(-45deg);white-space:nowrap;font-size:15px;line-height:18px;color:#aabedc;opacity:0.13"><svg style="position:static;vertical-align:-3px;margin-right:1px" width="19" height="15" viewBox="814 503 30 22"><g fill="none" stroke="#aabedc" stroke-width="1.200" stroke-linecap="round" transform="rotate(-17 829 512.500)"><path d="M826.500 506.300c-6 .6-10.500 3.200-10.500 6.200 0 3.400 5.800 6.200 13 6.200 1.200 0 2.400-.1 3.500-.2"/><path d="M833.500 506.900c4.800 1 8.500 3.100 8.500 5.600 0 1.900-1.800 3.600-4.800 4.700"/></g><ellipse cx="830" cy="506.300" rx="2.200" ry="1.200" fill="#aabedc"/><path d="M830 507.500L832 511L836.200 510.200L833 513.500L829.300 523.400L827.600 515L821.500 514.800L827.800 512.200Z" fill="#aabedc"/></svg>新天科技 智慧热力</div><div class="a" style="left:-239px;top:179px;transform-origin:0 100%;transform:rotate(-45deg);white-space:nowrap;font-size:15px;line-height:18px;color:#aabedc;opacity:0.13"><svg style="position:static;vertical-align:-3px;margin-right:1px" width="19" height="15" viewBox="814 503 30 22"><g fill="none" stroke="#aabedc" stroke-width="1.200" stroke-linecap="round" transform="rotate(-17 829 512.500)"><path d="M826.500 506.300c-6 .6-10.500 3.200-10.500 6.200 0 3.400 5.800 6.200 13 6.200 1.200 0 2.400-.1 3.500-.2"/><path d="M833.500 506.900c4.800 1 8.500 3.100 8.500 5.600 0 1.900-1.800 3.600-4.800 4.700"/></g><ellipse cx="830" cy="506.300" rx="2.200" ry="1.200" fill="#aabedc"/><path d="M830 507.500L832 511L836.200 510.200L833 513.500L829.300 523.400L827.600 515L821.500 514.800L827.800 512.200Z" fill="#aabedc"/></svg>新天科技 智慧热力</div><div class="a" style="left:751px;top:287px;transform-origin:0 100%;transform:rotate(-45deg);white-space:nowrap;font-size:15px;line-height:18px;color:#aabedc;opacity:0.13"><svg style="position:static;vertical-align:-3px;margin-right:1px" width="19" height="15" viewBox="814 503 30 22"><g fill="none" stroke="#aabedc" stroke-width="1.200" stroke-linecap="round" transform="rotate(-17 829 512.500)"><path d="M826.500 506.300c-6 .6-10.500 3.200-10.500 6.200 0 3.400 5.800 6.200 13 6.200 1.200 0 2.400-.1 3.500-.2"/><path d="M833.500 506.900c4.800 1 8.500 3.100 8.500 5.600 0 1.900-1.800 3.600-4.800 4.700"/></g><ellipse cx="830" cy="506.300" rx="2.200" ry="1.200" fill="#aabedc"/><path d="M830 507.500L832 511L836.200 510.200L833 513.500L829.300 523.400L827.600 515L821.500 514.800L827.800 512.200Z" fill="#aabedc"/></svg>新天科技 智慧热力</div><div class="a" style="left:610px;top:287px;transform-origin:0 100%;transform:rotate(-45deg);white-space:nowrap;font-size:15px;line-height:18px;color:#aabedc;opacity:0.13"><svg style="position:static;vertical-align:-3px;margin-right:1px" width="19" height="15" viewBox="814 503 30 22"><g fill="none" stroke="#aabedc" stroke-width="1.200" stroke-linecap="round" transform="rotate(-17 829 512.500)"><path d="M826.500 506.300c-6 .6-10.500 3.200-10.500 6.200 0 3.400 5.800 6.200 13 6.200 1.200 0 2.400-.1 3.500-.2"/><path d="M833.500 506.900c4.800 1 8.500 3.100 8.500 5.600 0 1.900-1.800 3.600-4.800 4.700"/></g><ellipse cx="830" cy="506.300" rx="2.200" ry="1.200" fill="#aabedc"/><path d="M830 507.500L832 511L836.200 510.200L833 513.500L829.300 523.400L827.600 515L821.500 514.800L827.800 512.200Z" fill="#aabedc"/></svg>新天科技 智慧热力</div><div class="a" style="left:469px;top:287px;transform-origin:0 100%;transform:rotate(-45deg);white-space:nowrap;font-size:15px;line-height:18px;color:#aabedc;opacity:0.13"><svg style="position:static;vertical-align:-3px;margin-right:1px" width="19" height="15" viewBox="814 503 30 22"><g fill="none" stroke="#aabedc" stroke-width="1.200" stroke-linecap="round" transform="rotate(-17 829 512.500)"><path d="M826.500 506.300c-6 .6-10.500 3.200-10.500 6.200 0 3.400 5.800 6.200 13 6.200 1.200 0 2.400-.1 3.500-.2"/><path d="M833.500 506.900c4.800 1 8.500 3.100 8.500 5.600 0 1.900-1.800 3.600-4.800 4.700"/></g><ellipse cx="830" cy="506.300" rx="2.200" ry="1.200" fill="#aabedc"/><path d="M830 507.500L832 511L836.200 510.200L833 513.500L829.300 523.400L827.600 515L821.500 514.800L827.800 512.200Z" fill="#aabedc"/></svg>新天科技 智慧热力</div><div class="a" style="left:328px;top:287px;transform-origin:0 100%;transform:rotate(-45deg);white-space:nowrap;font-size:15px;line-height:18px;color:#aabedc;opacity:0.13"><svg style="position:static;vertical-align:-3px;margin-right:1px" width="19" height="15" viewBox="814 503 30 22"><g fill="none" stroke="#aabedc" stroke-width="1.200" stroke-linecap="round" transform="rotate(-17 829 512.500)"><path d="M826.500 506.300c-6 .6-10.500 3.200-10.500 6.200 0 3.400 5.800 6.200 13 6.200 1.200 0 2.400-.1 3.500-.2"/><path d="M833.500 506.900c4.800 1 8.500 3.100 8.500 5.600 0 1.900-1.800 3.600-4.800 4.700"/></g><ellipse cx="830" cy="506.300" rx="2.200" ry="1.200" fill="#aabedc"/><path d="M830 507.500L832 511L836.200 510.200L833 513.500L829.300 523.400L827.600 515L821.500 514.800L827.800 512.200Z" fill="#aabedc"/></svg>新天科技 智慧热力</div><div class="a" style="left:187px;top:287px;transform-origin:0 100%;transform:rotate(-45deg);white-space:nowrap;font-size:15px;line-height:18px;color:#aabedc;opacity:0.13"><svg style="position:static;vertical-align:-3px;margin-right:1px" width="19" height="15" viewBox="814 503 30 22"><g fill="none" stroke="#aabedc" stroke-width="1.200" stroke-linecap="round" transform="rotate(-17 829 512.500)"><path d="M826.500 506.300c-6 .6-10.500 3.200-10.500 6.200 0 3.400 5.800 6.200 13 6.200 1.200 0 2.400-.1 3.500-.2"/><path d="M833.500 506.900c4.800 1 8.500 3.100 8.500 5.600 0 1.900-1.800 3.600-4.800 4.700"/></g><ellipse cx="830" cy="506.300" rx="2.200" ry="1.200" fill="#aabedc"/><path d="M830 507.500L832 511L836.200 510.200L833 513.500L829.300 523.400L827.600 515L821.500 514.800L827.800 512.200Z" fill="#aabedc"/></svg>新天科技 智慧热力</div><div class="a" style="left:46px;top:287px;transform-origin:0 100%;transform:rotate(-45deg);white-space:nowrap;font-size:15px;line-height:18px;color:#aabedc;opacity:0.13"><svg style="position:static;vertical-align:-3px;margin-right:1px" width="19" height="15" viewBox="814 503 30 22"><g fill="none" stroke="#aabedc" stroke-width="1.200" stroke-linecap="round" transform="rotate(-17 829 512.500)"><path d="M826.500 506.300c-6 .6-10.500 3.200-10.500 6.200 0 3.400 5.800 6.200 13 6.200 1.200 0 2.400-.1 3.500-.2"/><path d="M833.500 506.900c4.800 1 8.500 3.100 8.500 5.600 0 1.900-1.800 3.600-4.800 4.700"/></g><ellipse cx="830" cy="506.300" rx="2.200" ry="1.200" fill="#aabedc"/><path d="M830 507.500L832 511L836.200 510.200L833 513.500L829.300 523.400L827.600 515L821.500 514.800L827.800 512.200Z" fill="#aabedc"/></svg>新天科技 智慧热力</div><div class="a" style="left:-95px;top:287px;transform-origin:0 100%;transform:rotate(-45deg);white-space:nowrap;font-size:15px;line-height:18px;color:#aabedc;opacity:0.13"><svg style="position:static;vertical-align:-3px;margin-right:1px" width="19" height="15" viewBox="814 503 30 22"><g fill="none" stroke="#aabedc" stroke-width="1.200" stroke-linecap="round" transform="rotate(-17 829 512.500)"><path d="M826.500 506.300c-6 .6-10.500 3.200-10.500 6.200 0 3.400 5.800 6.200 13 6.200 1.200 0 2.400-.1 3.500-.2"/><path d="M833.500 506.900c4.800 1 8.500 3.100 8.500 5.600 0 1.900-1.800 3.600-4.800 4.700"/></g><ellipse cx="830" cy="506.300" rx="2.200" ry="1.200" fill="#aabedc"/><path d="M830 507.500L832 511L836.200 510.200L833 513.500L829.300 523.400L827.600 515L821.500 514.800L827.800 512.200Z" fill="#aabedc"/></svg>新天科技 智慧热力</div><div class="a" style="left:-236px;top:287px;transform-origin:0 100%;transform:rotate(-45deg);white-space:nowrap;font-size:15px;line-height:18px;color:#aabedc;opacity:0.13"><svg style="position:static;vertical-align:-3px;margin-right:1px" width="19" height="15" viewBox="814 503 30 22"><g fill="none" stroke="#aabedc" stroke-width="1.200" stroke-linecap="round" transform="rotate(-17 829 512.500)"><path d="M826.500 506.300c-6 .6-10.500 3.200-10.500 6.200 0 3.400 5.800 6.200 13 6.200 1.200 0 2.400-.1 3.500-.2"/><path d="M833.500 506.900c4.800 1 8.500 3.100 8.500 5.600 0 1.900-1.800 3.600-4.800 4.700"/></g><ellipse cx="830" cy="506.300" rx="2.200" ry="1.200" fill="#aabedc"/><path d="M830 507.500L832 511L836.200 510.200L833 513.500L829.300 523.400L827.600 515L821.500 514.800L827.800 512.200Z" fill="#aabedc"/></svg>新天科技 智慧热力</div><div class="a" style="left:754px;top:395px;transform-origin:0 100%;transform:rotate(-45deg);white-space:nowrap;font-size:15px;line-height:18px;color:#aabedc;opacity:0.13"><svg style="position:static;vertical-align:-3px;margin-right:1px" width="19" height="15" viewBox="814 503 30 22"><g fill="none" stroke="#aabedc" stroke-width="1.200" stroke-linecap="round" transform="rotate(-17 829 512.500)"><path d="M826.500 506.300c-6 .6-10.500 3.200-10.500 6.200 0 3.400 5.800 6.200 13 6.200 1.200 0 2.400-.1 3.500-.2"/><path d="M833.500 506.900c4.800 1 8.500 3.100 8.500 5.600 0 1.900-1.800 3.600-4.800 4.700"/></g><ellipse cx="830" cy="506.300" rx="2.200" ry="1.200" fill="#aabedc"/><path d="M830 507.500L832 511L836.200 510.200L833 513.500L829.300 523.400L827.600 515L821.500 514.800L827.800 512.200Z" fill="#aabedc"/></svg>新天科技 智慧热力</div><div class="a" style="left:613px;top:395px;transform-origin:0 100%;transform:rotate(-45deg);white-space:nowrap;font-size:15px;line-height:18px;color:#aabedc;opacity:0.13"><svg style="position:static;vertical-align:-3px;margin-right:1px" width="19" height="15" viewBox="814 503 30 22"><g fill="none" stroke="#aabedc" stroke-width="1.200" stroke-linecap="round" transform="rotate(-17 829 512.500)"><path d="M826.500 506.300c-6 .6-10.500 3.200-10.500 6.200 0 3.400 5.800 6.200 13 6.200 1.200 0 2.400-.1 3.500-.2"/><path d="M833.500 506.900c4.800 1 8.500 3.100 8.500 5.600 0 1.900-1.800 3.600-4.800 4.700"/></g><ellipse cx="830" cy="506.300" rx="2.200" ry="1.200" fill="#aabedc"/><path d="M830 507.500L832 511L836.200 510.200L833 513.500L829.300 523.400L827.600 515L821.500 514.800L827.800 512.200Z" fill="#aabedc"/></svg>新天科技 智慧热力</div><div class="a" style="left:472px;top:395px;transform-origin:0 100%;transform:rotate(-45deg);white-space:nowrap;font-size:15px;line-height:18px;color:#aabedc;opacity:0.13"><svg style="position:static;vertical-align:-3px;margin-right:1px" width="19" height="15" viewBox="814 503 30 22"><g fill="none" stroke="#aabedc" stroke-width="1.200" stroke-linecap="round" transform="rotate(-17 829 512.500)"><path d="M826.500 506.300c-6 .6-10.500 3.200-10.500 6.200 0 3.400 5.800 6.200 13 6.200 1.200 0 2.400-.1 3.500-.2"/><path d="M833.500 506.900c4.800 1 8.500 3.100 8.500 5.600 0 1.900-1.800 3.600-4.800 4.700"/></g><ellipse cx="830" cy="506.300" rx="2.200" ry="1.200" fill="#aabedc"/><path d="M830 507.500L832 511L836.200 510.200L833 513.500L829.300 523.400L827.600 515L821.500 514.800L827.800 512.200Z" fill="#aabedc"/></svg>新天科技 智慧热力</div><div class="a" style="left:331px;top:395px;transform-origin:0 100%;transform:rotate(-45deg);white-space:nowrap;font-size:15px;line-height:18px;color:#aabedc;opacity:0.13"><svg style="position:static;vertical-align:-3px;margin-right:1px" width="19" height="15" viewBox="814 503 30 22"><g fill="none" stroke="#aabedc" stroke-width="1.200" stroke-linecap="round" transform="rotate(-17 829 512.500)"><path d="M826.500 506.300c-6 .6-10.500 3.200-10.500 6.200 0 3.400 5.800 6.200 13 6.200 1.200 0 2.400-.1 3.500-.2"/><path d="M833.500 506.900c4.800 1 8.500 3.100 8.500 5.600 0 1.900-1.800 3.600-4.800 4.700"/></g><ellipse cx="830" cy="506.300" rx="2.200" ry="1.200" fill="#aabedc"/><path d="M830 507.500L832 511L836.200 510.200L833 513.500L829.300 523.400L827.600 515L821.500 514.800L827.800 512.200Z" fill="#aabedc"/></svg>新天科技 智慧热力</div><div class="a" style="left:190px;top:395px;transform-origin:0 100%;transform:rotate(-45deg);white-space:nowrap;font-size:15px;line-height:18px;color:#aabedc;opacity:0.13"><svg style="position:static;vertical-align:-3px;margin-right:1px" width="19" height="15" viewBox="814 503 30 22"><g fill="none" stroke="#aabedc" stroke-width="1.200" stroke-linecap="round" transform="rotate(-17 829 512.500)"><path d="M826.500 506.300c-6 .6-10.500 3.200-10.500 6.200 0 3.400 5.800 6.200 13 6.200 1.200 0 2.400-.1 3.500-.2"/><path d="M833.500 506.900c4.800 1 8.500 3.100 8.500 5.600 0 1.900-1.800 3.600-4.800 4.700"/></g><ellipse cx="830" cy="506.300" rx="2.200" ry="1.200" fill="#aabedc"/><path d="M830 507.500L832 511L836.200 510.200L833 513.500L829.300 523.400L827.600 515L821.500 514.800L827.800 512.200Z" fill="#aabedc"/></svg>新天科技 智慧热力</div><div class="a" style="left:49px;top:395px;transform-origin:0 100%;transform:rotate(-45deg);white-space:nowrap;font-size:15px;line-height:18px;color:#aabedc;opacity:0.13"><svg style="position:static;vertical-align:-3px;margin-right:1px" width="19" height="15" viewBox="814 503 30 22"><g fill="none" stroke="#aabedc" stroke-width="1.200" stroke-linecap="round" transform="rotate(-17 829 512.500)"><path d="M826.500 506.300c-6 .6-10.500 3.200-10.500 6.200 0 3.400 5.800 6.200 13 6.200 1.200 0 2.400-.1 3.500-.2"/><path d="M833.500 506.900c4.800 1 8.500 3.100 8.500 5.600 0 1.900-1.800 3.600-4.800 4.700"/></g><ellipse cx="830" cy="506.300" rx="2.200" ry="1.200" fill="#aabedc"/><path d="M830 507.500L832 511L836.200 510.200L833 513.500L829.300 523.400L827.600 515L821.500 514.800L827.800 512.200Z" fill="#aabedc"/></svg>新天科技 智慧热力</div><div class="a" style="left:-92px;top:395px;transform-origin:0 100%;transform:rotate(-45deg);white-space:nowrap;font-size:15px;line-height:18px;color:#aabedc;opacity:0.13"><svg style="position:static;vertical-align:-3px;margin-right:1px" width="19" height="15" viewBox="814 503 30 22"><g fill="none" stroke="#aabedc" stroke-width="1.200" stroke-linecap="round" transform="rotate(-17 829 512.500)"><path d="M826.500 506.300c-6 .6-10.500 3.200-10.500 6.200 0 3.400 5.800 6.200 13 6.200 1.200 0 2.400-.1 3.500-.2"/><path d="M833.500 506.900c4.800 1 8.500 3.100 8.500 5.600 0 1.900-1.800 3.600-4.800 4.700"/></g><ellipse cx="830" cy="506.300" rx="2.200" ry="1.200" fill="#aabedc"/><path d="M830 507.500L832 511L836.200 510.200L833 513.500L829.300 523.400L827.600 515L821.500 514.800L827.800 512.200Z" fill="#aabedc"/></svg>新天科技 智慧热力</div><div class="a" style="left:-233px;top:395px;transform-origin:0 100%;transform:rotate(-45deg);white-space:nowrap;font-size:15px;line-height:18px;color:#aabedc;opacity:0.13"><svg style="position:static;vertical-align:-3px;margin-right:1px" width="19" height="15" viewBox="814 503 30 22"><g fill="none" stroke="#aabedc" stroke-width="1.200" stroke-linecap="round" transform="rotate(-17 829 512.500)"><path d="M826.500 506.300c-6 .6-10.500 3.200-10.500 6.200 0 3.400 5.800 6.200 13 6.200 1.200 0 2.400-.1 3.500-.2"/><path d="M833.500 506.900c4.800 1 8.500 3.100 8.500 5.600 0 1.900-1.800 3.600-4.800 4.700"/></g><ellipse cx="830" cy="506.300" rx="2.200" ry="1.200" fill="#aabedc"/><path d="M830 507.500L832 511L836.200 510.200L833 513.500L829.300 523.400L827.600 515L821.500 514.800L827.800 512.200Z" fill="#aabedc"/></svg>新天科技 智慧热力</div><div class="a" style="left:757px;top:503px;transform-origin:0 100%;transform:rotate(-45deg);white-space:nowrap;font-size:15px;line-height:18px;color:#aabedc;opacity:0.13"><svg style="position:static;vertical-align:-3px;margin-right:1px" width="19" height="15" viewBox="814 503 30 22"><g fill="none" stroke="#aabedc" stroke-width="1.200" stroke-linecap="round" transform="rotate(-17 829 512.500)"><path d="M826.500 506.300c-6 .6-10.500 3.200-10.500 6.200 0 3.400 5.800 6.200 13 6.200 1.200 0 2.400-.1 3.500-.2"/><path d="M833.500 506.900c4.800 1 8.500 3.100 8.500 5.600 0 1.900-1.800 3.600-4.800 4.700"/></g><ellipse cx="830" cy="506.300" rx="2.200" ry="1.200" fill="#aabedc"/><path d="M830 507.500L832 511L836.200 510.200L833 513.500L829.300 523.400L827.600 515L821.500 514.800L827.800 512.200Z" fill="#aabedc"/></svg>新天科技 智慧热力</div><div class="a" style="left:616px;top:503px;transform-origin:0 100%;transform:rotate(-45deg);white-space:nowrap;font-size:15px;line-height:18px;color:#aabedc;opacity:0.13"><svg style="position:static;vertical-align:-3px;margin-right:1px" width="19" height="15" viewBox="814 503 30 22"><g fill="none" stroke="#aabedc" stroke-width="1.200" stroke-linecap="round" transform="rotate(-17 829 512.500)"><path d="M826.500 506.300c-6 .6-10.500 3.200-10.500 6.200 0 3.400 5.800 6.200 13 6.200 1.200 0 2.400-.1 3.500-.2"/><path d="M833.500 506.900c4.800 1 8.500 3.100 8.500 5.600 0 1.900-1.800 3.600-4.800 4.700"/></g><ellipse cx="830" cy="506.300" rx="2.200" ry="1.200" fill="#aabedc"/><path d="M830 507.500L832 511L836.200 510.200L833 513.500L829.300 523.400L827.600 515L821.500 514.800L827.800 512.200Z" fill="#aabedc"/></svg>新天科技 智慧热力</div><div class="a" style="left:475px;top:503px;transform-origin:0 100%;transform:rotate(-45deg);white-space:nowrap;font-size:15px;line-height:18px;color:#aabedc;opacity:0.13"><svg style="position:static;vertical-align:-3px;margin-right:1px" width="19" height="15" viewBox="814 503 30 22"><g fill="none" stroke="#aabedc" stroke-width="1.200" stroke-linecap="round" transform="rotate(-17 829 512.500)"><path d="M826.500 506.300c-6 .6-10.500 3.200-10.500 6.200 0 3.400 5.800 6.200 13 6.200 1.200 0 2.400-.1 3.500-.2"/><path d="M833.500 506.900c4.800 1 8.500 3.100 8.500 5.600 0 1.900-1.800 3.600-4.800 4.700"/></g><ellipse cx="830" cy="506.300" rx="2.200" ry="1.200" fill="#aabedc"/><path d="M830 507.500L832 511L836.200 510.200L833 513.500L829.300 523.400L827.600 515L821.500 514.800L827.800 512.200Z" fill="#aabedc"/></svg>新天科技 智慧热力</div><div class="a" style="left:334px;top:503px;transform-origin:0 100%;transform:rotate(-45deg);white-space:nowrap;font-size:15px;line-height:18px;color:#aabedc;opacity:0.13"><svg style="position:static;vertical-align:-3px;margin-right:1px" width="19" height="15" viewBox="814 503 30 22"><g fill="none" stroke="#aabedc" stroke-width="1.200" stroke-linecap="round" transform="rotate(-17 829 512.500)"><path d="M826.500 506.300c-6 .6-10.500 3.200-10.500 6.200 0 3.400 5.800 6.200 13 6.200 1.200 0 2.400-.1 3.500-.2"/><path d="M833.500 506.900c4.800 1 8.500 3.100 8.500 5.600 0 1.900-1.800 3.600-4.800 4.700"/></g><ellipse cx="830" cy="506.300" rx="2.200" ry="1.200" fill="#aabedc"/><path d="M830 507.500L832 511L836.200 510.200L833 513.500L829.300 523.400L827.600 515L821.500 514.800L827.800 512.200Z" fill="#aabedc"/></svg>新天科技 智慧热力</div><div class="a" style="left:193px;top:503px;transform-origin:0 100%;transform:rotate(-45deg);white-space:nowrap;font-size:15px;line-height:18px;color:#aabedc;opacity:0.13"><svg style="position:static;vertical-align:-3px;margin-right:1px" width="19" height="15" viewBox="814 503 30 22"><g fill="none" stroke="#aabedc" stroke-width="1.200" stroke-linecap="round" transform="rotate(-17 829 512.500)"><path d="M826.500 506.300c-6 .6-10.500 3.200-10.500 6.200 0 3.400 5.800 6.200 13 6.200 1.200 0 2.400-.1 3.500-.2"/><path d="M833.500 506.900c4.800 1 8.500 3.100 8.500 5.600 0 1.900-1.800 3.600-4.800 4.700"/></g><ellipse cx="830" cy="506.300" rx="2.200" ry="1.200" fill="#aabedc"/><path d="M830 507.500L832 511L836.200 510.200L833 513.500L829.300 523.400L827.600 515L821.500 514.800L827.800 512.200Z" fill="#aabedc"/></svg>新天科技 智慧热力</div><div class="a" style="left:52px;top:503px;transform-origin:0 100%;transform:rotate(-45deg);white-space:nowrap;font-size:15px;line-height:18px;color:#aabedc;opacity:0.13"><svg style="position:static;vertical-align:-3px;margin-right:1px" width="19" height="15" viewBox="814 503 30 22"><g fill="none" stroke="#aabedc" stroke-width="1.200" stroke-linecap="round" transform="rotate(-17 829 512.500)"><path d="M826.500 506.300c-6 .6-10.500 3.200-10.500 6.200 0 3.400 5.800 6.200 13 6.200 1.200 0 2.400-.1 3.500-.2"/><path d="M833.500 506.900c4.800 1 8.500 3.100 8.500 5.600 0 1.900-1.800 3.600-4.800 4.700"/></g><ellipse cx="830" cy="506.300" rx="2.200" ry="1.200" fill="#aabedc"/><path d="M830 507.500L832 511L836.200 510.200L833 513.500L829.300 523.400L827.600 515L821.500 514.800L827.800 512.200Z" fill="#aabedc"/></svg>新天科技 智慧热力</div><div class="a" style="left:-89px;top:503px;transform-origin:0 100%;transform:rotate(-45deg);white-space:nowrap;font-size:15px;line-height:18px;color:#aabedc;opacity:0.13"><svg style="position:static;vertical-align:-3px;margin-right:1px" width="19" height="15" viewBox="814 503 30 22"><g fill="none" stroke="#aabedc" stroke-width="1.200" stroke-linecap="round" transform="rotate(-17 829 512.500)"><path d="M826.500 506.300c-6 .6-10.500 3.200-10.500 6.200 0 3.400 5.800 6.200 13 6.200 1.200 0 2.400-.1 3.500-.2"/><path d="M833.500 506.900c4.800 1 8.500 3.100 8.500 5.600 0 1.900-1.800 3.600-4.800 4.700"/></g><ellipse cx="830" cy="506.300" rx="2.200" ry="1.200" fill="#aabedc"/><path d="M830 507.500L832 511L836.200 510.200L833 513.500L829.300 523.400L827.600 515L821.500 514.800L827.800 512.200Z" fill="#aabedc"/></svg>新天科技 智慧热力</div><div class="a" style="left:-230px;top:503px;transform-origin:0 100%;transform:rotate(-45deg);white-space:nowrap;font-size:15px;line-height:18px;color:#aabedc;opacity:0.13"><svg style="position:static;vertical-align:-3px;margin-right:1px" width="19" height="15" viewBox="814 503 30 22"><g fill="none" stroke="#aabedc" stroke-width="1.200" stroke-linecap="round" transform="rotate(-17 829 512.500)"><path d="M826.500 506.300c-6 .6-10.500 3.200-10.500 6.200 0 3.400 5.800 6.200 13 6.200 1.200 0 2.400-.1 3.500-.2"/><path d="M833.500 506.900c4.800 1 8.500 3.100 8.500 5.600 0 1.900-1.800 3.600-4.800 4.700"/></g><ellipse cx="830" cy="506.300" rx="2.200" ry="1.200" fill="#aabedc"/><path d="M830 507.500L832 511L836.200 510.200L833 513.500L829.300 523.400L827.600 515L821.500 514.800L827.800 512.200Z" fill="#aabedc"/></svg>新天科技 智慧热力</div><div class="a" style="left:760px;top:611px;transform-origin:0 100%;transform:rotate(-45deg);white-space:nowrap;font-size:15px;line-height:18px;color:#aabedc;opacity:0.13"><svg style="position:static;vertical-align:-3px;margin-right:1px" width="19" height="15" viewBox="814 503 30 22"><g fill="none" stroke="#aabedc" stroke-width="1.200" stroke-linecap="round" transform="rotate(-17 829 512.500)"><path d="M826.500 506.300c-6 .6-10.500 3.200-10.500 6.200 0 3.400 5.800 6.200 13 6.200 1.200 0 2.400-.1 3.500-.2"/><path d="M833.500 506.900c4.800 1 8.500 3.100 8.500 5.600 0 1.900-1.800 3.600-4.800 4.700"/></g><ellipse cx="830" cy="506.300" rx="2.200" ry="1.200" fill="#aabedc"/><path d="M830 507.500L832 511L836.200 510.200L833 513.500L829.300 523.400L827.600 515L821.500 514.800L827.800 512.200Z" fill="#aabedc"/></svg>新天科技 智慧热力</div><div class="a" style="left:619px;top:611px;transform-origin:0 100%;transform:rotate(-45deg);white-space:nowrap;font-size:15px;line-height:18px;color:#aabedc;opacity:0.13"><svg style="position:static;vertical-align:-3px;margin-right:1px" width="19" height="15" viewBox="814 503 30 22"><g fill="none" stroke="#aabedc" stroke-width="1.200" stroke-linecap="round" transform="rotate(-17 829 512.500)"><path d="M826.500 506.300c-6 .6-10.500 3.200-10.500 6.200 0 3.400 5.800 6.200 13 6.200 1.200 0 2.400-.1 3.500-.2"/><path d="M833.500 506.900c4.800 1 8.500 3.100 8.500 5.600 0 1.900-1.800 3.600-4.800 4.700"/></g><ellipse cx="830" cy="506.300" rx="2.200" ry="1.200" fill="#aabedc"/><path d="M830 507.500L832 511L836.200 510.200L833 513.500L829.300 523.400L827.600 515L821.500 514.800L827.800 512.200Z" fill="#aabedc"/></svg>新天科技 智慧热力</div><div class="a" style="left:478px;top:611px;transform-origin:0 100%;transform:rotate(-45deg);white-space:nowrap;font-size:15px;line-height:18px;color:#aabedc;opacity:0.13"><svg style="position:static;vertical-align:-3px;margin-right:1px" width="19" height="15" viewBox="814 503 30 22"><g fill="none" stroke="#aabedc" stroke-width="1.200" stroke-linecap="round" transform="rotate(-17 829 512.500)"><path d="M826.500 506.300c-6 .6-10.500 3.200-10.500 6.200 0 3.400 5.800 6.200 13 6.200 1.200 0 2.400-.1 3.500-.2"/><path d="M833.500 506.900c4.800 1 8.500 3.100 8.500 5.600 0 1.900-1.800 3.600-4.800 4.700"/></g><ellipse cx="830" cy="506.300" rx="2.200" ry="1.200" fill="#aabedc"/><path d="M830 507.500L832 511L836.200 510.200L833 513.500L829.300 523.400L827.600 515L821.500 514.800L827.800 512.200Z" fill="#aabedc"/></svg>新天科技 智慧热力</div><div class="a" style="left:337px;top:611px;transform-origin:0 100%;transform:rotate(-45deg);white-space:nowrap;font-size:15px;line-height:18px;color:#aabedc;opacity:0.13"><svg style="position:static;vertical-align:-3px;margin-right:1px" width="19" height="15" viewBox="814 503 30 22"><g fill="none" stroke="#aabedc" stroke-width="1.200" stroke-linecap="round" transform="rotate(-17 829 512.500)"><path d="M826.500 506.300c-6 .6-10.500 3.200-10.500 6.200 0 3.400 5.800 6.200 13 6.200 1.200 0 2.400-.1 3.500-.2"/><path d="M833.500 506.900c4.800 1 8.500 3.100 8.500 5.600 0 1.900-1.800 3.600-4.800 4.700"/></g><ellipse cx="830" cy="506.300" rx="2.200" ry="1.200" fill="#aabedc"/><path d="M830 507.500L832 511L836.200 510.200L833 513.500L829.300 523.400L827.600 515L821.500 514.800L827.800 512.200Z" fill="#aabedc"/></svg>新天科技 智慧热力</div><div class="a" style="left:196px;top:611px;transform-origin:0 100%;transform:rotate(-45deg);white-space:nowrap;font-size:15px;line-height:18px;color:#aabedc;opacity:0.13"><svg style="position:static;vertical-align:-3px;margin-right:1px" width="19" height="15" viewBox="814 503 30 22"><g fill="none" stroke="#aabedc" stroke-width="1.200" stroke-linecap="round" transform="rotate(-17 829 512.500)"><path d="M826.500 506.300c-6 .6-10.500 3.200-10.500 6.200 0 3.400 5.800 6.200 13 6.200 1.200 0 2.400-.1 3.500-.2"/><path d="M833.500 506.900c4.800 1 8.500 3.100 8.500 5.600 0 1.900-1.800 3.600-4.800 4.700"/></g><ellipse cx="830" cy="506.300" rx="2.200" ry="1.200" fill="#aabedc"/><path d="M830 507.500L832 511L836.200 510.200L833 513.500L829.300 523.400L827.600 515L821.500 514.800L827.800 512.200Z" fill="#aabedc"/></svg>新天科技 智慧热力</div><div class="a" style="left:55px;top:611px;transform-origin:0 100%;transform:rotate(-45deg);white-space:nowrap;font-size:15px;line-height:18px;color:#aabedc;opacity:0.13"><svg style="position:static;vertical-align:-3px;margin-right:1px" width="19" height="15" viewBox="814 503 30 22"><g fill="none" stroke="#aabedc" stroke-width="1.200" stroke-linecap="round" transform="rotate(-17 829 512.500)"><path d="M826.500 506.300c-6 .6-10.500 3.200-10.500 6.200 0 3.400 5.800 6.200 13 6.200 1.200 0 2.400-.1 3.500-.2"/><path d="M833.500 506.900c4.800 1 8.500 3.100 8.500 5.600 0 1.900-1.800 3.600-4.800 4.700"/></g><ellipse cx="830" cy="506.300" rx="2.200" ry="1.200" fill="#aabedc"/><path d="M830 507.500L832 511L836.200 510.200L833 513.500L829.300 523.400L827.600 515L821.500 514.800L827.800 512.200Z" fill="#aabedc"/></svg>新天科技 智慧热力</div><div class="a" style="left:-86px;top:611px;transform-origin:0 100%;transform:rotate(-45deg);white-space:nowrap;font-size:15px;line-height:18px;color:#aabedc;opacity:0.13"><svg style="position:static;vertical-align:-3px;margin-right:1px" width="19" height="15" viewBox="814 503 30 22"><g fill="none" stroke="#aabedc" stroke-width="1.200" stroke-linecap="round" transform="rotate(-17 829 512.500)"><path d="M826.500 506.300c-6 .6-10.500 3.200-10.500 6.200 0 3.400 5.800 6.200 13 6.200 1.200 0 2.400-.1 3.500-.2"/><path d="M833.500 506.900c4.800 1 8.500 3.100 8.500 5.600 0 1.900-1.800 3.600-4.800 4.700"/></g><ellipse cx="830" cy="506.300" rx="2.200" ry="1.200" fill="#aabedc"/><path d="M830 507.500L832 511L836.200 510.200L833 513.500L829.300 523.400L827.600 515L821.500 514.800L827.800 512.200Z" fill="#aabedc"/></svg>新天科技 智慧热力</div><div class="a" style="left:-227px;top:611px;transform-origin:0 100%;transform:rotate(-45deg);white-space:nowrap;font-size:15px;line-height:18px;color:#aabedc;opacity:0.13"><svg style="position:static;vertical-align:-3px;margin-right:1px" width="19" height="15" viewBox="814 503 30 22"><g fill="none" stroke="#aabedc" stroke-width="1.200" stroke-linecap="round" transform="rotate(-17 829 512.500)"><path d="M826.500 506.300c-6 .6-10.500 3.200-10.500 6.200 0 3.400 5.800 6.200 13 6.200 1.200 0 2.400-.1 3.500-.2"/><path d="M833.500 506.900c4.800 1 8.500 3.100 8.500 5.600 0 1.900-1.800 3.600-4.800 4.700"/></g><ellipse cx="830" cy="506.300" rx="2.200" ry="1.200" fill="#aabedc"/><path d="M830 507.500L832 511L836.200 510.200L833 513.500L829.300 523.400L827.600 515L821.500 514.800L827.800 512.200Z" fill="#aabedc"/></svg>新天科技 智慧热力</div><div class="a" style="left:763px;top:719px;transform-origin:0 100%;transform:rotate(-45deg);white-space:nowrap;font-size:15px;line-height:18px;color:#aabedc;opacity:0.13"><svg style="position:static;vertical-align:-3px;margin-right:1px" width="19" height="15" viewBox="814 503 30 22"><g fill="none" stroke="#aabedc" stroke-width="1.200" stroke-linecap="round" transform="rotate(-17 829 512.500)"><path d="M826.500 506.300c-6 .6-10.500 3.200-10.500 6.200 0 3.400 5.800 6.200 13 6.200 1.200 0 2.400-.1 3.500-.2"/><path d="M833.500 506.900c4.800 1 8.500 3.100 8.500 5.600 0 1.900-1.800 3.600-4.800 4.700"/></g><ellipse cx="830" cy="506.300" rx="2.200" ry="1.200" fill="#aabedc"/><path d="M830 507.500L832 511L836.200 510.200L833 513.500L829.300 523.400L827.600 515L821.500 514.800L827.800 512.200Z" fill="#aabedc"/></svg>新天科技 智慧热力</div><div class="a" style="left:622px;top:719px;transform-origin:0 100%;transform:rotate(-45deg);white-space:nowrap;font-size:15px;line-height:18px;color:#aabedc;opacity:0.13"><svg style="position:static;vertical-align:-3px;margin-right:1px" width="19" height="15" viewBox="814 503 30 22"><g fill="none" stroke="#aabedc" stroke-width="1.200" stroke-linecap="round" transform="rotate(-17 829 512.500)"><path d="M826.500 506.300c-6 .6-10.500 3.200-10.500 6.200 0 3.400 5.800 6.200 13 6.200 1.200 0 2.400-.1 3.500-.2"/><path d="M833.500 506.900c4.800 1 8.500 3.100 8.500 5.600 0 1.900-1.800 3.600-4.800 4.700"/></g><ellipse cx="830" cy="506.300" rx="2.200" ry="1.200" fill="#aabedc"/><path d="M830 507.500L832 511L836.200 510.200L833 513.500L829.300 523.400L827.600 515L821.500 514.800L827.800 512.200Z" fill="#aabedc"/></svg>新天科技 智慧热力</div><div class="a" style="left:481px;top:719px;transform-origin:0 100%;transform:rotate(-45deg);white-space:nowrap;font-size:15px;line-height:18px;color:#aabedc;opacity:0.13"><svg style="position:static;vertical-align:-3px;margin-right:1px" width="19" height="15" viewBox="814 503 30 22"><g fill="none" stroke="#aabedc" stroke-width="1.200" stroke-linecap="round" transform="rotate(-17 829 512.500)"><path d="M826.500 506.300c-6 .6-10.500 3.200-10.500 6.200 0 3.400 5.800 6.200 13 6.200 1.200 0 2.400-.1 3.500-.2"/><path d="M833.500 506.900c4.800 1 8.500 3.100 8.500 5.600 0 1.900-1.800 3.600-4.800 4.700"/></g><ellipse cx="830" cy="506.300" rx="2.200" ry="1.200" fill="#aabedc"/><path d="M830 507.500L832 511L836.200 510.200L833 513.500L829.300 523.400L827.600 515L821.500 514.800L827.800 512.200Z" fill="#aabedc"/></svg>新天科技 智慧热力</div><div class="a" style="left:340px;top:719px;transform-origin:0 100%;transform:rotate(-45deg);white-space:nowrap;font-size:15px;line-height:18px;color:#aabedc;opacity:0.13"><svg style="position:static;vertical-align:-3px;margin-right:1px" width="19" height="15" viewBox="814 503 30 22"><g fill="none" stroke="#aabedc" stroke-width="1.200" stroke-linecap="round" transform="rotate(-17 829 512.500)"><path d="M826.500 506.300c-6 .6-10.500 3.200-10.500 6.200 0 3.400 5.800 6.200 13 6.200 1.200 0 2.400-.1 3.500-.2"/><path d="M833.500 506.900c4.800 1 8.500 3.100 8.500 5.600 0 1.900-1.800 3.600-4.800 4.700"/></g><ellipse cx="830" cy="506.300" rx="2.200" ry="1.200" fill="#aabedc"/><path d="M830 507.500L832 511L836.200 510.200L833 513.500L829.300 523.400L827.600 515L821.500 514.800L827.800 512.200Z" fill="#aabedc"/></svg>新天科技 智慧热力</div><div class="a" style="left:199px;top:719px;transform-origin:0 100%;transform:rotate(-45deg);white-space:nowrap;font-size:15px;line-height:18px;color:#aabedc;opacity:0.13"><svg style="position:static;vertical-align:-3px;margin-right:1px" width="19" height="15" viewBox="814 503 30 22"><g fill="none" stroke="#aabedc" stroke-width="1.200" stroke-linecap="round" transform="rotate(-17 829 512.500)"><path d="M826.500 506.300c-6 .6-10.500 3.200-10.500 6.200 0 3.400 5.800 6.200 13 6.200 1.200 0 2.400-.1 3.500-.2"/><path d="M833.500 506.900c4.800 1 8.500 3.100 8.500 5.600 0 1.900-1.800 3.600-4.800 4.700"/></g><ellipse cx="830" cy="506.300" rx="2.200" ry="1.200" fill="#aabedc"/><path d="M830 507.500L832 511L836.200 510.200L833 513.500L829.300 523.400L827.600 515L821.500 514.800L827.800 512.200Z" fill="#aabedc"/></svg>新天科技 智慧热力</div><div class="a" style="left:58px;top:719px;transform-origin:0 100%;transform:rotate(-45deg);white-space:nowrap;font-size:15px;line-height:18px;color:#aabedc;opacity:0.13"><svg style="position:static;vertical-align:-3px;margin-right:1px" width="19" height="15" viewBox="814 503 30 22"><g fill="none" stroke="#aabedc" stroke-width="1.200" stroke-linecap="round" transform="rotate(-17 829 512.500)"><path d="M826.500 506.300c-6 .6-10.500 3.200-10.500 6.200 0 3.400 5.800 6.200 13 6.200 1.200 0 2.400-.1 3.500-.2"/><path d="M833.500 506.900c4.800 1 8.500 3.100 8.500 5.600 0 1.900-1.800 3.600-4.800 4.700"/></g><ellipse cx="830" cy="506.300" rx="2.200" ry="1.200" fill="#aabedc"/><path d="M830 507.500L832 511L836.200 510.200L833 513.500L829.300 523.400L827.600 515L821.500 514.800L827.800 512.200Z" fill="#aabedc"/></svg>新天科技 智慧热力</div><div class="a" style="left:-83px;top:719px;transform-origin:0 100%;transform:rotate(-45deg);white-space:nowrap;font-size:15px;line-height:18px;color:#aabedc;opacity:0.13"><svg style="position:static;vertical-align:-3px;margin-right:1px" width="19" height="15" viewBox="814 503 30 22"><g fill="none" stroke="#aabedc" stroke-width="1.200" stroke-linecap="round" transform="rotate(-17 829 512.500)"><path d="M826.500 506.300c-6 .6-10.500 3.200-10.500 6.200 0 3.400 5.800 6.200 13 6.200 1.200 0 2.400-.1 3.500-.2"/><path d="M833.500 506.900c4.800 1 8.500 3.100 8.500 5.600 0 1.900-1.800 3.600-4.800 4.700"/></g><ellipse cx="830" cy="506.300" rx="2.200" ry="1.200" fill="#aabedc"/><path d="M830 507.500L832 511L836.200 510.200L833 513.500L829.300 523.400L827.600 515L821.500 514.800L827.800 512.200Z" fill="#aabedc"/></svg>新天科技 智慧热力</div><div class="a" style="left:-224px;top:719px;transform-origin:0 100%;transform:rotate(-45deg);white-space:nowrap;font-size:15px;line-height:18px;color:#aabedc;opacity:0.13"><svg style="position:static;vertical-align:-3px;margin-right:1px" width="19" height="15" viewBox="814 503 30 22"><g fill="none" stroke="#aabedc" stroke-width="1.200" stroke-linecap="round" transform="rotate(-17 829 512.500)"><path d="M826.500 506.300c-6 .6-10.500 3.200-10.500 6.200 0 3.400 5.800 6.200 13 6.200 1.200 0 2.400-.1 3.500-.2"/><path d="M833.500 506.900c4.800 1 8.500 3.100 8.500 5.600 0 1.900-1.800 3.600-4.800 4.700"/></g><ellipse cx="830" cy="506.300" rx="2.200" ry="1.200" fill="#aabedc"/><path d="M830 507.500L832 511L836.200 510.200L833 513.500L829.300 523.400L827.600 515L821.500 514.800L827.800 512.200Z" fill="#aabedc"/></svg>新天科技 智慧热力</div></div>
</body></html>
